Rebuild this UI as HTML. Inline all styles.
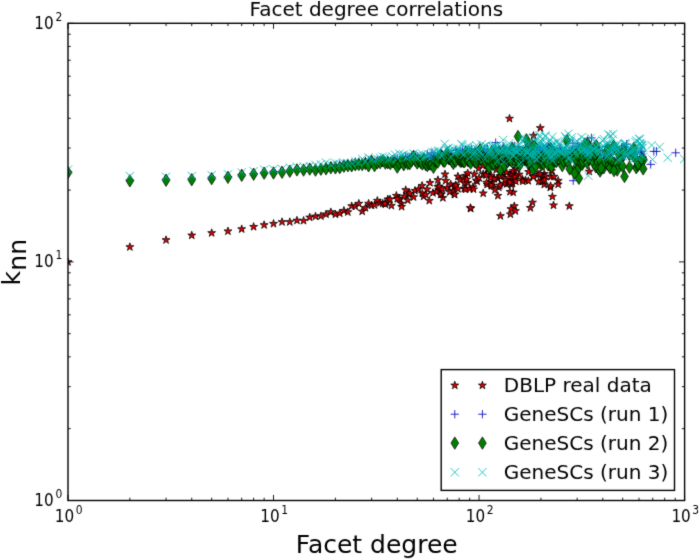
<!DOCTYPE html>
<html><head><meta charset="utf-8"><style>html,body{margin:0;padding:0;background:#fff;width:700px;height:560px;overflow:hidden}svg{display:block}</style></head><body>
<svg width="700" height="560" viewBox="0 0 700 560">
<filter id="bl" x="0" y="0" width="700" height="560" filterUnits="userSpaceOnUse" color-interpolation-filters="sRGB"><feConvolveMatrix order="3" kernelMatrix="0.0144 0.0912 0.0144 0.0912 0.5776 0.0912 0.0144 0.0912 0.0144" edgeMode="duplicate"/></filter>
<rect width="700" height="560" fill="#fff"/>
<g filter="url(#bl)">
<rect width="700" height="560" fill="#fff"/>
<clipPath id="ax"><rect x="68" y="23.3" width="616.6" height="477.2"/></clipPath>
<g clip-path="url(#ax)">
<g fill="#e00000" stroke="#000" stroke-width="0.8" stroke-linejoin="miter">
<path d="M68 257.83 67.06 260.71 64.04 260.71 66.49 262.49 65.55 265.37 68 263.59 70.45 265.37 69.51 262.49 71.96 260.71 68.94 260.71Z"/>
<path d="M129.87 242.83 128.94 245.71 125.91 245.71 128.36 247.49 127.42 250.37 129.87 248.59 132.32 250.37 131.39 247.49 133.83 245.71 130.81 245.71Z"/>
<path d="M166.06 235.83 165.13 238.71 162.1 238.71 164.55 240.49 163.62 243.37 166.06 241.59 168.51 243.37 167.58 240.49 170.03 238.71 167 238.71Z"/>
<path d="M191.74 231.23 190.81 234.11 187.78 234.11 190.23 235.89 189.29 238.77 191.74 236.99 194.19 238.77 193.26 235.89 195.71 234.11 192.68 234.11Z"/>
<path d="M211.66 228.83 210.73 231.71 207.7 231.71 210.15 233.49 209.21 236.37 211.66 234.59 214.11 236.37 213.18 233.49 215.62 231.71 212.6 231.71Z"/>
<path d="M227.94 227.08 227 229.96 223.97 229.96 226.42 231.74 225.49 234.62 227.94 232.84 230.39 234.62 229.45 231.74 231.9 229.96 228.87 229.96Z"/>
<path d="M241.7 224.93 240.76 227.81 237.73 227.81 240.18 229.59 239.25 232.47 241.7 230.69 244.14 232.47 243.21 229.59 245.66 227.81 242.63 227.81Z"/>
<path d="M253.62 222.63 252.68 225.51 249.65 225.51 252.1 227.29 251.17 230.17 253.62 228.39 256.06 230.17 255.13 227.29 257.58 225.51 254.55 225.51Z"/>
<path d="M264.13 220.83 263.19 223.71 260.17 223.71 262.62 225.49 261.68 228.37 264.13 226.59 266.58 228.37 265.64 225.49 268.09 223.71 265.06 223.71Z"/>
<path d="M273.53 219.58 272.6 222.46 269.57 222.46 272.02 224.24 271.08 227.12 273.53 225.34 275.98 227.12 275.05 224.24 277.5 222.46 274.47 222.46Z"/>
<path d="M282.04 217.83 281.11 220.71 278.08 220.71 280.53 222.49 279.59 225.37 282.04 223.59 284.49 225.37 283.55 222.49 286 220.71 282.98 220.71Z"/>
<path d="M289.81 217.83 288.87 220.71 285.84 220.71 288.29 222.49 287.36 225.37 289.81 223.59 292.26 225.37 291.32 222.49 293.77 220.71 290.74 220.71Z"/>
<path d="M296.95 216.33 296.02 219.21 292.99 219.21 295.44 220.99 294.5 223.87 296.95 222.09 299.4 223.87 298.47 220.99 300.92 219.21 297.89 219.21Z"/>
<path d="M303.57 216.53 302.63 219.41 299.6 219.41 302.05 221.19 301.12 224.07 303.57 222.29 306.02 224.07 305.08 221.19 307.53 219.41 304.5 219.41Z"/>
<path d="M309.73 213.23 308.79 216.11 305.76 216.11 308.21 217.89 307.28 220.77 309.73 218.99 312.18 220.77 311.24 217.89 313.69 216.11 310.66 216.11Z"/>
<path d="M315.49 212.23 314.55 215.11 311.52 215.11 313.97 216.89 313.04 219.77 315.49 217.99 317.94 219.77 317 216.89 319.45 215.11 316.42 215.11Z"/>
<path d="M320.9 211.93 319.96 214.81 316.94 214.81 319.38 216.59 318.45 219.47 320.9 217.69 323.35 219.47 322.41 216.59 324.86 214.81 321.83 214.81Z"/>
<path d="M326 210.13 325.06 213.01 322.04 213.01 324.49 214.79 323.55 217.67 326 215.89 328.45 217.67 327.51 214.79 329.96 213.01 326.94 213.01Z"/>
<path d="M330.83 207.93 329.89 210.81 326.86 210.81 329.31 212.59 328.38 215.47 330.83 213.69 333.28 215.47 332.34 212.59 334.79 210.81 331.76 210.81Z"/>
<path d="M335.41 210.13 334.47 213.01 331.44 213.01 333.89 214.79 332.96 217.67 335.41 215.89 337.85 217.67 336.92 214.79 339.37 213.01 336.34 213.01Z"/>
<path d="M339.76 209.13 338.82 212.01 335.8 212.01 338.25 213.79 337.31 216.67 339.76 214.89 342.21 216.67 341.27 213.79 343.72 212.01 340.7 212.01Z"/>
<path d="M343.91 206.53 342.98 209.41 339.95 209.41 342.4 211.19 341.46 214.07 343.91 212.29 346.36 214.07 345.43 211.19 347.88 209.41 344.85 209.41Z"/>
<path d="M347.88 207.93 346.94 210.81 343.92 210.81 346.37 212.59 345.43 215.47 347.88 213.69 350.33 215.47 349.39 212.59 351.84 210.81 348.82 210.81Z"/>
<path d="M351.68 201.93 350.74 204.81 347.72 204.81 350.17 206.59 349.23 209.47 351.68 207.69 354.13 209.47 353.19 206.59 355.64 204.81 352.61 204.81Z"/>
<path d="M355.32 202.23 354.39 205.11 351.36 205.11 353.81 206.89 352.87 209.77 355.32 207.99 357.77 209.77 356.84 206.89 359.29 205.11 356.26 205.11Z"/>
<path d="M358.82 199.43 357.89 202.31 354.86 202.31 357.31 204.09 356.38 206.97 358.82 205.19 361.27 206.97 360.34 204.09 362.79 202.31 359.76 202.31Z"/>
<path d="M362.19 207.23 361.26 210.11 358.23 210.11 360.68 211.89 359.74 214.77 362.19 212.99 364.64 214.77 363.71 211.89 366.16 210.11 363.13 210.11Z"/>
<path d="M365.44 203.73 364.5 206.61 361.48 206.61 363.93 208.39 362.99 211.27 365.44 209.49 367.89 211.27 366.95 208.39 369.4 206.61 366.37 206.61Z"/>
<path d="M368.57 199.43 367.64 202.31 364.61 202.31 367.06 204.09 366.12 206.97 368.57 205.19 371.02 206.97 370.09 204.09 372.53 202.31 369.51 202.31Z"/>
<path d="M371.6 201.23 370.66 204.11 367.63 204.11 370.08 205.89 369.15 208.77 371.6 206.99 374.05 208.77 373.11 205.89 375.56 204.11 372.53 204.11Z"/>
<path d="M374.52 200.83 373.59 203.71 370.56 203.71 373.01 205.49 372.08 208.37 374.52 206.59 376.97 208.37 376.04 205.49 378.49 203.71 375.46 203.71Z"/>
<path d="M377.36 196.53 376.42 199.41 373.4 199.41 375.84 201.19 374.91 204.07 377.36 202.29 379.81 204.07 378.87 201.19 381.32 199.41 378.29 199.41Z"/>
<path d="M380.11 198.73 379.17 201.61 376.14 201.61 378.59 203.39 377.66 206.27 380.11 204.49 382.55 206.27 381.62 203.39 384.07 201.61 381.04 201.61Z"/>
<path d="M382.77 199.33 381.83 202.21 378.81 202.21 381.26 203.99 380.32 206.87 382.77 205.09 385.22 206.87 384.28 203.99 386.73 202.21 383.71 202.21Z"/>
<path d="M385.36 200.13 384.42 203.01 381.39 203.01 383.84 204.79 382.91 207.67 385.36 205.89 387.81 207.67 386.87 204.79 389.32 203.01 386.29 203.01Z"/>
<path d="M387.87 195.13 386.94 198.01 383.91 198.01 386.36 199.79 385.42 202.67 387.87 200.89 390.32 202.67 389.39 199.79 391.83 198.01 388.81 198.01Z"/>
<path d="M385 199.43 384.06 202.31 381.04 202.31 383.49 204.09 382.55 206.97 385 205.19 387.45 206.97 386.51 204.09 388.96 202.31 385.94 202.31Z"/>
<path d="M391.4 201.53 390.46 204.41 387.44 204.41 389.89 206.19 388.95 209.07 391.4 207.29 393.85 209.07 392.91 206.19 395.36 204.41 392.34 204.41Z"/>
<path d="M390 195.13 389.06 198.01 386.04 198.01 388.49 199.79 387.55 202.67 390 200.89 392.45 202.67 391.51 199.79 393.96 198.01 390.94 198.01Z"/>
<path d="M396.4 191.53 395.46 194.41 392.44 194.41 394.89 196.19 393.95 199.07 396.4 197.29 398.85 199.07 397.91 196.19 400.36 194.41 397.34 194.41Z"/>
<path d="M401.4 199.43 400.46 202.31 397.44 202.31 399.89 204.09 398.95 206.97 401.4 205.19 403.85 206.97 402.91 204.09 405.36 202.31 402.34 202.31Z"/>
<path d="M399.3 194.43 398.36 197.31 395.34 197.31 397.79 199.09 396.85 201.97 399.3 200.19 401.75 201.97 400.81 199.09 403.26 197.31 400.24 197.31Z"/>
<path d="M405.7 185.83 404.76 188.71 401.74 188.71 404.19 190.49 403.25 193.37 405.7 191.59 408.15 193.37 407.21 190.49 409.66 188.71 406.64 188.71Z"/>
<path d="M404.3 192.23 403.36 195.11 400.34 195.11 402.79 196.89 401.85 199.77 404.3 197.99 406.75 199.77 405.81 196.89 408.26 195.11 405.24 195.11Z"/>
<path d="M408.6 190.13 407.66 193.01 404.64 193.01 407.09 194.79 406.15 197.67 408.6 195.89 411.05 197.67 410.11 194.79 412.56 193.01 409.54 193.01Z"/>
<path d="M413.6 192.93 412.66 195.81 409.64 195.81 412.09 197.59 411.15 200.47 413.6 198.69 416.05 200.47 415.11 197.59 417.56 195.81 414.54 195.81Z"/>
<path d="M415 186.53 414.06 189.41 411.04 189.41 413.49 191.19 412.55 194.07 415 192.29 417.45 194.07 416.51 191.19 418.96 189.41 415.94 189.41Z"/>
<path d="M418.6 185.13 417.66 188.01 414.64 188.01 417.09 189.79 416.15 192.67 418.6 190.89 421.05 192.67 420.11 189.79 422.56 188.01 419.54 188.01Z"/>
<path d="M422.1 181.53 421.16 184.41 418.14 184.41 420.59 186.19 419.65 189.07 422.1 187.29 424.55 189.07 423.61 186.19 426.06 184.41 423.04 184.41Z"/>
<path d="M423.6 192.23 422.66 195.11 419.64 195.11 422.09 196.89 421.15 199.77 423.6 197.99 426.05 199.77 425.11 196.89 427.56 195.11 424.54 195.11Z"/>
<path d="M427.1 185.13 426.16 188.01 423.14 188.01 425.59 189.79 424.65 192.67 427.1 190.89 429.55 192.67 428.61 189.79 431.06 188.01 428.04 188.01Z"/>
<path d="M429.3 196.53 428.36 199.41 425.34 199.41 427.79 201.19 426.85 204.07 429.3 202.29 431.75 204.07 430.81 201.19 433.26 199.41 430.24 199.41Z"/>
<path d="M430 178.73 429.06 181.61 426.04 181.61 428.49 183.39 427.55 186.27 430 184.49 432.45 186.27 431.51 183.39 433.96 181.61 430.94 181.61Z"/>
<path d="M432.9 188.73 431.96 191.61 428.94 191.61 431.39 193.39 430.45 196.27 432.9 194.49 435.35 196.27 434.41 193.39 436.86 191.61 433.84 191.61Z"/>
<path d="M437.9 175.83 436.96 178.71 433.94 178.71 436.39 180.49 435.45 183.37 437.9 181.59 440.35 183.37 439.41 180.49 441.86 178.71 438.84 178.71Z"/>
<path d="M438.6 185.83 437.66 188.71 434.64 188.71 437.09 190.49 436.15 193.37 438.6 191.59 441.05 193.37 440.11 190.49 442.56 188.71 439.54 188.71Z"/>
<path d="M441.4 190.13 440.46 193.01 437.44 193.01 439.89 194.79 438.95 197.67 441.4 195.89 443.85 197.67 442.91 194.79 445.36 193.01 442.34 193.01Z"/>
<path d="M442.9 193.73 441.96 196.61 438.94 196.61 441.39 198.39 440.45 201.27 442.9 199.49 445.35 201.27 444.41 198.39 446.86 196.61 443.84 196.61Z"/>
<path d="M445 170.13 444.06 173.01 441.04 173.01 443.49 174.79 442.55 177.67 445 175.89 447.45 177.67 446.51 174.79 448.96 173.01 445.94 173.01Z"/>
<path d="M445.7 176.53 444.76 179.41 441.74 179.41 444.19 181.19 443.25 184.07 445.7 182.29 448.15 184.07 447.21 181.19 449.66 179.41 446.64 179.41Z"/>
<path d="M447.1 183.73 446.16 186.61 443.14 186.61 445.59 188.39 444.65 191.27 447.1 189.49 449.55 191.27 448.61 188.39 451.06 186.61 448.04 186.61Z"/>
<path d="M450.7 180.13 449.76 183.01 446.74 183.01 449.19 184.79 448.25 187.67 450.7 185.89 453.15 187.67 452.21 184.79 454.66 183.01 451.64 183.01Z"/>
<path d="M454.3 190.13 453.36 193.01 450.34 193.01 452.79 194.79 451.85 197.67 454.3 195.89 456.75 197.67 455.81 194.79 458.26 193.01 455.24 193.01Z"/>
<path d="M455.7 181.53 454.76 184.41 451.74 184.41 454.19 186.19 453.25 189.07 455.7 187.29 458.15 189.07 457.21 186.19 459.66 184.41 456.64 184.41Z"/>
<path d="M457.9 172.23 456.96 175.11 453.94 175.11 456.39 176.89 455.45 179.77 457.9 177.99 460.35 179.77 459.41 176.89 461.86 175.11 458.84 175.11Z"/>
<path d="M460 175.83 459.06 178.71 456.04 178.71 458.49 180.49 457.55 183.37 460 181.59 462.45 183.37 461.51 180.49 463.96 178.71 460.94 178.71Z"/>
<path d="M464.3 184.43 463.36 187.31 460.34 187.31 462.79 189.09 461.85 191.97 464.3 190.19 466.75 191.97 465.81 189.09 468.26 187.31 465.24 187.31Z"/>
<path d="M465.7 171.53 464.76 174.41 461.74 174.41 464.19 176.19 463.25 179.07 465.7 177.29 468.15 179.07 467.21 176.19 469.66 174.41 466.64 174.41Z"/>
<path d="M467.9 178.73 466.96 181.61 463.94 181.61 466.39 183.39 465.45 186.27 467.9 184.49 470.35 186.27 469.41 183.39 471.86 181.61 468.84 181.61Z"/>
<path d="M470.7 204.43 469.76 207.31 466.74 207.31 469.19 209.09 468.25 211.97 470.7 210.19 473.15 211.97 472.21 209.09 474.66 207.31 471.64 207.31Z"/>
<path d="M472.9 182.93 471.96 185.81 468.94 185.81 471.39 187.59 470.45 190.47 472.9 188.69 475.35 190.47 474.41 187.59 476.86 185.81 473.84 185.81Z"/>
<path d="M474.3 170.13 473.36 173.01 470.34 173.01 472.79 174.79 471.85 177.67 474.3 175.89 476.75 177.67 475.81 174.79 478.26 173.01 475.24 173.01Z"/>
<path d="M477.1 177.23 476.16 180.11 473.14 180.11 475.59 181.89 474.65 184.77 477.1 182.99 479.55 184.77 478.61 181.89 481.06 180.11 478.04 180.11Z"/>
<path d="M478.6 164.43 477.66 167.31 474.64 167.31 477.09 169.09 476.15 171.97 478.6 170.19 481.05 171.97 480.11 169.09 482.56 167.31 479.54 167.31Z"/>
<path d="M397.28 194.7 396.34 197.58 393.31 197.58 395.76 199.36 394.83 202.24 397.28 200.46 399.73 202.24 398.79 199.36 401.24 197.58 398.21 197.58Z"/>
<path d="M401.63 202.56 400.7 205.44 397.67 205.44 400.12 207.22 399.18 210.1 401.63 208.32 404.08 210.1 403.15 207.22 405.59 205.44 402.57 205.44Z"/>
<path d="M407.79 196.07 406.85 198.95 403.83 198.95 406.28 200.73 405.34 203.61 407.79 201.83 410.24 203.61 409.3 200.73 411.75 198.95 408.73 198.95Z"/>
<path d="M409.75 189.13 408.82 192.01 405.79 192.01 408.24 193.79 407.3 196.67 409.75 194.89 412.2 196.67 411.27 193.79 413.71 192.01 410.69 192.01Z"/>
<path d="M422.4 189.38 421.46 192.26 418.43 192.26 420.88 194.04 419.95 196.92 422.4 195.14 424.85 196.92 423.91 194.04 426.36 192.26 423.33 192.26Z"/>
<path d="M425.7 190.49 424.77 193.37 421.74 193.37 424.19 195.15 423.25 198.03 425.7 196.25 428.15 198.03 427.22 195.15 429.67 193.37 426.64 193.37Z"/>
<path d="M436.4 187.71 435.46 190.59 432.43 190.59 434.88 192.37 433.95 195.25 436.4 193.47 438.85 195.25 437.91 192.37 440.36 190.59 437.33 190.59Z"/>
<path d="M437.82 182.57 436.89 185.45 433.86 185.45 436.31 187.23 435.38 190.1 437.82 188.33 440.27 190.1 439.34 187.23 441.79 185.45 438.76 185.45Z"/>
<path d="M439.23 182.21 438.29 185.09 435.27 185.09 437.72 186.87 436.78 189.75 439.23 187.97 441.68 189.75 440.74 186.87 443.19 185.09 440.17 185.09Z"/>
<path d="M440.61 190.32 439.68 193.2 436.65 193.2 439.1 194.98 438.17 197.86 440.61 196.08 443.06 197.86 442.13 194.98 444.58 193.2 441.55 193.2Z"/>
<path d="M441.98 184.99 441.04 187.87 438.01 187.87 440.46 189.65 439.53 192.53 441.98 190.75 444.43 192.53 443.49 189.65 445.94 187.87 442.91 187.87Z"/>
<path d="M449.74 187.86 448.81 190.74 445.78 190.74 448.23 192.52 447.29 195.4 449.74 193.62 452.19 195.4 451.26 192.52 453.71 190.74 450.68 190.74Z"/>
<path d="M453.39 186.45 452.45 189.32 449.42 189.32 451.87 191.1 450.94 193.98 453.39 192.2 455.84 193.98 454.9 191.1 457.35 189.32 454.32 189.32Z"/>
<path d="M454.57 182.7 453.63 185.58 450.61 185.58 453.06 187.36 452.12 190.24 454.57 188.46 457.02 190.24 456.08 187.36 458.53 185.58 455.51 185.58Z"/>
<path d="M455.74 181.09 454.8 183.97 451.77 183.97 454.22 185.75 453.29 188.63 455.74 186.85 458.19 188.63 457.25 185.75 459.7 183.97 456.67 183.97Z"/>
<path d="M458.03 184.79 457.09 187.66 454.06 187.66 456.51 189.44 455.58 192.32 458.03 190.54 460.47 192.32 459.54 189.44 461.99 187.66 458.96 187.66Z"/>
<path d="M463.5 174.11 462.57 176.99 459.54 176.99 461.99 178.77 461.05 181.65 463.5 179.87 465.95 181.65 465.02 178.77 467.47 176.99 464.44 176.99Z"/>
<path d="M464.56 178.8 463.62 181.68 460.6 181.68 463.05 183.46 462.11 186.34 464.56 184.56 467.01 186.34 466.07 183.46 468.52 181.68 465.5 181.68Z"/>
<path d="M465.6 185.24 464.67 188.12 461.64 188.12 464.09 189.9 463.15 192.78 465.6 191 468.05 192.78 467.12 189.9 469.57 188.12 466.54 188.12Z"/>
<path d="M466.64 175.28 465.7 178.15 462.67 178.15 465.12 179.93 464.19 182.81 466.64 181.03 469.08 182.81 468.15 179.93 470.6 178.15 467.57 178.15Z"/>
<path d="M467.66 169.03 466.72 171.9 463.69 171.9 466.14 173.68 465.21 176.56 467.66 174.78 470.11 176.56 469.17 173.68 471.62 171.9 468.59 171.9Z"/>
<path d="M469.66 184.76 468.73 187.64 465.7 187.64 468.15 189.42 467.21 192.3 469.66 190.52 472.11 192.3 471.18 189.42 473.62 187.64 470.6 187.64Z"/>
<path d="M473.54 185.1 472.61 187.98 469.58 187.98 472.03 189.76 471.09 192.64 473.54 190.86 475.99 192.64 475.06 189.76 477.51 187.98 474.48 187.98Z"/>
<path d="M476.35 176.16 475.41 179.04 472.39 179.04 474.83 180.82 473.9 183.7 476.35 181.92 478.8 183.7 477.86 180.82 480.31 179.04 477.28 179.04Z"/>
<path d="M479.07 173.85 478.13 176.73 475.1 176.73 477.55 178.51 476.62 181.39 479.07 179.61 481.52 181.39 480.58 178.51 483.03 176.73 480 176.73Z"/>
<path d="M487.1 180.4 486.17 183.28 483.14 183.28 485.59 185.06 484.65 187.94 487.1 186.16 489.55 187.94 488.61 185.06 491.06 183.28 488.04 183.28Z"/>
<path d="M511.3 180.51 510.36 183.39 507.33 183.39 509.78 185.17 508.85 188.05 511.3 186.27 513.75 188.05 512.81 185.17 515.26 183.39 512.23 183.39Z"/>
<path d="M498.81 183.2 497.87 186.08 494.85 186.08 497.3 187.86 496.36 190.74 498.81 188.96 501.26 190.74 500.32 187.86 502.77 186.08 499.75 186.08Z"/>
<path d="M506.55 179.92 505.61 182.8 502.59 182.8 505.04 184.58 504.1 187.45 506.55 185.68 509 187.45 508.06 184.58 510.51 182.8 507.49 182.8Z"/>
<path d="M492.14 178.26 491.21 181.14 488.18 181.14 490.63 182.92 489.69 185.8 492.14 184.02 494.59 185.8 493.66 182.92 496.11 181.14 493.08 181.14Z"/>
<path d="M482.67 161.59 481.73 164.47 478.71 164.47 481.16 166.24 480.22 169.12 482.67 167.34 485.12 169.12 484.18 166.24 486.63 164.47 483.61 164.47Z"/>
<path d="M502.99 169.53 502.06 172.41 499.03 172.41 501.48 174.19 500.55 177.07 502.99 175.29 505.44 177.07 504.51 174.19 506.96 172.41 503.93 172.41Z"/>
<path d="M497.9 191.55 496.97 194.43 493.94 194.43 496.39 196.21 495.45 199.08 497.9 197.3 500.35 199.08 499.42 196.21 501.86 194.43 498.84 194.43Z"/>
<path d="M491.08 171.47 490.14 174.34 487.12 174.34 489.57 176.12 488.63 179 491.08 177.22 493.53 179 492.59 176.12 495.04 174.34 492.02 174.34Z"/>
<path d="M503.98 179.28 503.04 182.16 500.02 182.16 502.47 183.94 501.53 186.82 503.98 185.04 506.43 186.82 505.49 183.94 507.94 182.16 504.92 182.16Z"/>
<path d="M497.73 174.39 496.79 177.27 493.76 177.27 496.21 179.05 495.28 181.93 497.73 180.15 500.17 181.93 499.24 179.05 501.69 177.27 498.66 177.27Z"/>
<path d="M512.55 179.47 511.61 182.35 508.59 182.35 511.04 184.13 510.1 187.01 512.55 185.23 515 187.01 514.06 184.13 516.51 182.35 513.48 182.35Z"/>
<path d="M513.47 175.28 512.53 178.16 509.51 178.16 511.96 179.94 511.02 182.82 513.47 181.04 515.92 182.82 514.98 179.94 517.43 178.16 514.41 178.16Z"/>
<path d="M506.61 168.45 505.68 171.33 502.65 171.33 505.1 173.11 504.16 175.99 506.61 174.21 509.06 175.99 508.13 173.11 510.58 171.33 507.55 171.33Z"/>
<path d="M483.2 169.83 482.26 172.71 479.23 172.71 481.68 174.49 480.75 177.37 483.2 175.59 485.65 177.37 484.71 174.49 487.16 172.71 484.13 172.71Z"/>
<path d="M508.98 177.18 508.04 180.06 505.02 180.06 507.47 181.84 506.53 184.72 508.98 182.94 511.43 184.72 510.49 181.84 512.94 180.06 509.92 180.06Z"/>
<path d="M501.88 171.7 500.95 174.58 497.92 174.58 500.37 176.35 499.43 179.23 501.88 177.45 504.33 179.23 503.4 176.35 505.84 174.58 502.82 174.58Z"/>
<path d="M497.49 161.85 496.56 164.73 493.53 164.73 495.98 166.51 495.05 169.39 497.49 167.61 499.94 169.39 499.01 166.51 501.46 164.73 498.43 164.73Z"/>
<path d="M486.6 178.37 485.67 181.25 482.64 181.25 485.09 183.03 484.15 185.91 486.6 184.13 489.05 185.91 488.12 183.03 490.57 181.25 487.54 181.25Z"/>
<path d="M491.8 181.76 490.86 184.64 487.84 184.64 490.29 186.42 489.35 189.3 491.8 187.52 494.25 189.3 493.31 186.42 495.76 184.64 492.73 184.64Z"/>
<path d="M491.15 181.13 490.21 184.01 487.19 184.01 489.64 185.79 488.7 188.67 491.15 186.89 493.6 188.67 492.66 185.79 495.11 184.01 492.09 184.01Z"/>
<path d="M499.79 181.29 498.85 184.17 495.82 184.17 498.27 185.94 497.34 188.82 499.79 187.04 502.24 188.82 501.3 185.94 503.75 184.17 500.72 184.17Z"/>
<path d="M488.32 165.08 487.38 167.95 484.36 167.95 486.8 169.73 485.87 172.61 488.32 170.83 490.77 172.61 489.83 169.73 492.28 167.95 489.25 167.95Z"/>
<path d="M494.89 185.93 493.95 188.8 490.93 188.8 493.38 190.58 492.44 193.46 494.89 191.68 497.34 193.46 496.4 190.58 498.85 188.8 495.83 188.8Z"/>
<path d="M497.59 173.92 496.65 176.8 493.63 176.8 496.08 178.57 495.14 181.45 497.59 179.67 500.04 181.45 499.1 178.57 501.55 176.8 498.53 176.8Z"/>
<path d="M512.07 169.01 511.13 171.89 508.11 171.89 510.55 173.67 509.62 176.54 512.07 174.77 514.52 176.54 513.58 173.67 516.03 171.89 513 171.89Z"/>
<path d="M500.06 172.03 499.13 174.91 496.1 174.91 498.55 176.69 497.62 179.57 500.06 177.79 502.51 179.57 501.58 176.69 504.03 174.91 501 174.91Z"/>
<path d="M511.37 170.28 510.44 173.16 507.41 173.16 509.86 174.94 508.92 177.82 511.37 176.04 513.82 177.82 512.88 174.94 515.33 173.16 512.31 173.16Z"/>
<path d="M513.06 166.89 512.13 169.77 509.1 169.77 511.55 171.55 510.62 174.43 513.06 172.65 515.51 174.43 514.58 171.55 517.03 169.77 514 169.77Z"/>
<path d="M494.34 174.75 493.4 177.63 490.38 177.63 492.83 179.41 491.89 182.29 494.34 180.51 496.79 182.29 495.85 179.41 498.3 177.63 495.28 177.63Z"/>
<path d="M514.14 175.93 513.2 178.81 510.17 178.81 512.62 180.59 511.69 183.46 514.14 181.68 516.58 183.46 515.65 180.59 518.1 178.81 515.07 178.81Z"/>
<path d="M508.63 173.55 507.69 176.43 504.67 176.43 507.12 178.21 506.18 181.08 508.63 179.3 511.08 181.08 510.14 178.21 512.59 176.43 509.56 176.43Z"/>
<path d="M505.25 175.89 504.31 178.77 501.29 178.77 503.74 180.55 502.8 183.43 505.25 181.65 507.7 183.43 506.76 180.55 509.21 178.77 506.18 178.77Z"/>
<path d="M490.64 173.73 489.71 176.61 486.68 176.61 489.13 178.39 488.19 181.27 490.64 179.49 493.09 181.27 492.16 178.39 494.6 176.61 491.58 176.61Z"/>
<path d="M485.71 170.19 484.78 173.06 481.75 173.06 484.2 174.84 483.26 177.72 485.71 175.94 488.16 177.72 487.22 174.84 489.67 173.06 486.65 173.06Z"/>
<path d="M486.09 171.13 485.16 174.01 482.13 174.01 484.58 175.79 483.64 178.67 486.09 176.89 488.54 178.67 487.6 175.79 490.05 174.01 487.03 174.01Z"/>
<path d="M509.93 178.19 508.99 181.07 505.96 181.07 508.41 182.85 507.48 185.73 509.93 183.95 512.38 185.73 511.44 182.85 513.89 181.07 510.86 181.07Z"/>
<path d="M496.21 165.66 495.27 168.53 492.25 168.53 494.7 170.31 493.76 173.19 496.21 171.41 498.66 173.19 497.72 170.31 500.17 168.53 497.14 168.53Z"/>
<path d="M544.33 169.67 543.39 172.55 540.36 172.55 542.81 174.33 541.88 177.21 544.33 175.43 546.78 177.21 545.84 174.33 548.29 172.55 545.26 172.55Z"/>
<path d="M558.22 176.51 557.29 179.39 554.26 179.39 556.71 181.17 555.77 184.05 558.22 182.27 560.67 184.05 559.74 181.17 562.18 179.39 559.16 179.39Z"/>
<path d="M542.89 173.19 541.96 176.07 538.93 176.07 541.38 177.85 540.44 180.73 542.89 178.95 545.34 180.73 544.41 177.85 546.86 176.07 543.83 176.07Z"/>
<path d="M522.46 175.11 521.52 177.99 518.5 177.99 520.95 179.77 520.01 182.64 522.46 180.87 524.91 182.64 523.97 179.77 526.42 177.99 523.39 177.99Z"/>
<path d="M532.93 172.12 531.99 175 528.97 175 531.42 176.78 530.48 179.66 532.93 177.88 535.38 179.66 534.44 176.78 536.89 175 533.87 175Z"/>
<path d="M551.5 166.75 550.56 169.63 547.54 169.63 549.99 171.41 549.05 174.29 551.5 172.51 553.95 174.29 553.01 171.41 555.46 169.63 552.44 169.63Z"/>
<path d="M519.21 170.3 518.27 173.18 515.24 173.18 517.69 174.96 516.76 177.84 519.21 176.06 521.66 177.84 520.72 174.96 523.17 173.18 520.14 173.18Z"/>
<path d="M550.89 172.66 549.96 175.54 546.93 175.54 549.38 177.32 548.44 180.2 550.89 178.42 553.34 180.2 552.41 177.32 554.86 175.54 551.83 175.54Z"/>
<path d="M538.07 170.29 537.14 173.17 534.11 173.17 536.56 174.95 535.62 177.83 538.07 176.05 540.52 177.83 539.59 174.95 542.03 173.17 539.01 173.17Z"/>
<path d="M516.15 171.32 515.21 174.2 512.18 174.2 514.63 175.98 513.7 178.86 516.15 177.08 518.6 178.86 517.66 175.98 520.11 174.2 517.08 174.2Z"/>
<path d="M514.93 172.94 513.99 175.82 510.97 175.82 513.42 177.6 512.48 180.48 514.93 178.7 517.38 180.48 516.44 177.6 518.89 175.82 515.87 175.82Z"/>
<path d="M525.43 176.24 524.5 179.11 521.47 179.11 523.92 180.89 522.99 183.77 525.43 181.99 527.88 183.77 526.95 180.89 529.4 179.11 526.37 179.11Z"/>
<path d="M540.08 170.02 539.15 172.89 536.12 172.89 538.57 174.67 537.64 177.55 540.08 175.77 542.53 177.55 541.6 174.67 544.05 172.89 541.02 172.89Z"/>
<path d="M541.16 177.58 540.22 180.46 537.2 180.46 539.64 182.24 538.71 185.12 541.16 183.34 543.61 185.12 542.67 182.24 545.12 180.46 542.09 180.46Z"/>
<path d="M545.18 172.13 544.25 175.01 541.22 175.01 543.67 176.79 542.73 179.67 545.18 177.89 547.63 179.67 546.7 176.79 549.14 175.01 546.12 175.01Z"/>
<path d="M528.29 176.74 527.35 179.62 524.32 179.62 526.77 181.4 525.84 184.28 528.29 182.5 530.74 184.28 529.8 181.4 532.25 179.62 529.22 179.62Z"/>
<path d="M538.77 177.44 537.83 180.32 534.8 180.32 537.25 182.1 536.32 184.98 538.77 183.2 541.22 184.98 540.28 182.1 542.73 180.32 539.7 180.32Z"/>
<path d="M544.27 180.41 543.33 183.29 540.31 183.29 542.76 185.07 541.82 187.95 544.27 186.17 546.72 187.95 545.78 185.07 548.23 183.29 545.2 183.29Z"/>
<path d="M522.8 177.14 521.86 180.02 518.83 180.02 521.28 181.8 520.35 184.68 522.8 182.9 525.25 184.68 524.31 181.8 526.76 180.02 523.73 180.02Z"/>
<path d="M515.83 177.2 514.89 180.08 511.86 180.08 514.31 181.86 513.38 184.74 515.83 182.96 518.27 184.74 517.34 181.86 519.79 180.08 516.76 180.08Z"/>
<path d="M558.16 180.26 557.23 183.13 554.2 183.13 556.65 184.91 555.71 187.79 558.16 186.01 560.61 187.79 559.68 184.91 562.13 183.13 559.1 183.13Z"/>
<path d="M516.33 164.39 515.4 167.27 512.37 167.27 514.82 169.05 513.88 171.93 516.33 170.15 518.78 171.93 517.85 169.05 520.3 167.27 517.27 167.27Z"/>
<path d="M528.63 167.76 527.69 170.64 524.67 170.64 527.11 172.42 526.18 175.3 528.63 173.52 531.08 175.3 530.14 172.42 532.59 170.64 529.56 170.64Z"/>
<path d="M542.82 177.03 541.89 179.91 538.86 179.91 541.31 181.69 540.38 184.57 542.82 182.79 545.27 184.57 544.34 181.69 546.79 179.91 543.76 179.91Z"/>
<path d="M509.5 114.43 508.56 117.31 505.54 117.31 507.99 119.09 507.05 121.97 509.5 120.19 511.95 121.97 511.01 119.09 513.46 117.31 510.44 117.31Z"/>
<path d="M540.3 123.83 539.36 126.71 536.34 126.71 538.79 128.49 537.85 131.37 540.3 129.59 542.75 131.37 541.81 128.49 544.26 126.71 541.24 126.71Z"/>
<path d="M533.5 131.53 532.56 134.41 529.54 134.41 531.99 136.19 531.05 139.07 533.5 137.29 535.95 139.07 535.01 136.19 537.46 134.41 534.44 134.41Z"/>
<path d="M454.7 190.43 453.76 193.31 450.74 193.31 453.19 195.09 452.25 197.97 454.7 196.19 457.15 197.97 456.21 195.09 458.66 193.31 455.64 193.31Z"/>
<path d="M470.4 203.73 469.46 206.61 466.44 206.61 468.89 208.39 467.95 211.27 470.4 209.49 472.85 211.27 471.91 208.39 474.36 206.61 471.34 206.61Z"/>
<path d="M500.4 211.83 499.46 214.71 496.44 214.71 498.89 216.49 497.95 219.37 500.4 217.59 502.85 219.37 501.91 216.49 504.36 214.71 501.34 214.71Z"/>
<path d="M510.4 210.13 509.46 213.01 506.44 213.01 508.89 214.79 507.95 217.67 510.4 215.89 512.85 217.67 511.91 214.79 514.36 213.01 511.34 213.01Z"/>
<path d="M514.3 201.93 513.36 204.81 510.34 204.81 512.79 206.59 511.85 209.47 514.3 207.69 516.75 209.47 515.81 206.59 518.26 204.81 515.24 204.81Z"/>
<path d="M515.4 206.83 514.46 209.71 511.44 209.71 513.89 211.49 512.95 214.37 515.4 212.59 517.85 214.37 516.91 211.49 519.36 209.71 516.34 209.71Z"/>
<path d="M511 204.83 510.06 207.71 507.04 207.71 509.49 209.49 508.55 212.37 511 210.59 513.45 212.37 512.51 209.49 514.96 207.71 511.94 207.71Z"/>
<path d="M530.4 203.73 529.46 206.61 526.44 206.61 528.89 208.39 527.95 211.27 530.4 209.49 532.85 211.27 531.91 208.39 534.36 206.61 531.34 206.61Z"/>
<path d="M532.5 198.33 531.56 201.21 528.54 201.21 530.99 202.99 530.05 205.87 532.5 204.09 534.95 205.87 534.01 202.99 536.46 201.21 533.44 201.21Z"/>
<path d="M552.4 192.53 551.46 195.41 548.44 195.41 550.89 197.19 549.95 200.07 552.4 198.29 554.85 200.07 553.91 197.19 556.36 195.41 553.34 195.41Z"/>
<path d="M553.5 201.13 552.56 204.01 549.54 204.01 551.99 205.79 551.05 208.67 553.5 206.89 555.95 208.67 555.01 205.79 557.46 204.01 554.44 204.01Z"/>
<path d="M569.3 201.93 568.36 204.81 565.34 204.81 567.79 206.59 566.85 209.47 569.3 207.69 571.75 209.47 570.81 206.59 573.26 204.81 570.24 204.81Z"/>
<path d="M550.3 183.33 549.36 186.21 546.34 186.21 548.79 187.99 547.85 190.87 550.3 189.09 552.75 190.87 551.81 187.99 554.26 186.21 551.24 186.21Z"/>
<path d="M483.2 189.13 482.26 192.01 479.24 192.01 481.69 193.79 480.75 196.67 483.2 194.89 485.65 196.67 484.71 193.79 487.16 192.01 484.14 192.01Z"/>
<path d="M513.2 188.23 512.26 191.11 509.24 191.11 511.69 192.89 510.75 195.77 513.2 193.99 515.65 195.77 514.71 192.89 517.16 191.11 514.14 191.11Z"/>
<path d="M510 187.63 509.06 190.51 506.04 190.51 508.49 192.29 507.55 195.17 510 193.39 512.45 195.17 511.51 192.29 513.96 190.51 510.94 190.51Z"/>
<path d="M550.6 181.83 549.66 184.71 546.64 184.71 549.09 186.49 548.15 189.37 550.6 187.59 553.05 189.37 552.11 186.49 554.56 184.71 551.54 184.71Z"/>
<path d="M544.6 175.83 543.66 178.71 540.64 178.71 543.09 180.49 542.15 183.37 544.6 181.59 547.05 183.37 546.11 180.49 548.56 178.71 545.54 178.71Z"/>
<path d="M533.4 172.43 532.46 175.31 529.44 175.31 531.89 177.09 530.95 179.97 533.4 178.19 535.85 179.97 534.91 177.09 537.36 175.31 534.34 175.31Z"/>
<path d="M554 172.43 553.06 175.31 550.04 175.31 552.49 177.09 551.55 179.97 554 178.19 556.45 179.97 555.51 177.09 557.96 175.31 554.94 175.31Z"/>
<path d="M589.2 167.33 588.26 170.21 585.24 170.21 587.69 171.99 586.75 174.87 589.2 173.09 591.65 174.87 590.71 171.99 593.16 170.21 590.14 170.21Z"/>
</g>
<path fill="none" stroke="#1010c0" stroke-width="0.9" d="M63.83 171.61h8.33M68 167.44v8.33M125.71 179.79h8.33M129.87 175.62v8.33M161.9 179.26h8.33M166.06 175.09v8.33M187.58 178.39h8.33M191.74 174.23v8.33M207.49 177.14h8.33M211.66 172.97v8.33M223.77 176.59h8.33M227.94 172.42v8.33M237.53 174.62h8.33M241.7 170.45v8.33M249.45 173.59h8.33M253.62 169.42v8.33M259.96 172.36h8.33M264.13 168.19v8.33M269.37 171.31h8.33M273.53 167.15v8.33M277.87 171.63h8.33M282.04 167.46v8.33M285.64 170.08h8.33M289.81 165.91v8.33M292.79 169.64h8.33M296.95 165.48v8.33M299.4 168.83h8.33M303.57 164.67v8.33M305.56 168.14h8.33M309.73 163.98v8.33M311.32 167.86h8.33M315.49 163.7v8.33M316.73 167.49h8.33M320.9 163.33v8.33M321.83 166.45h8.33M326 162.28v8.33M326.66 165.95h8.33M330.83 161.79v8.33M331.24 166h8.33M335.41 161.84v8.33M335.59 164.49h8.33M339.76 160.33v8.33M339.75 163.53h8.33M343.91 159.36v8.33M343.71 164.55h8.33M347.88 160.39v8.33M347.51 163.28h8.33M351.68 159.11v8.33M351.16 161.77h8.33M355.32 157.6v8.33M354.66 162.33h8.33M358.82 158.17v8.33M358.03 162.28h8.33M362.19 158.11v8.33M361.27 161.19h8.33M365.44 157.03v8.33M364.4 160.51h8.33M368.57 156.34v8.33M367.43 161.8h8.33M371.6 157.63v8.33M370.36 162.48h8.33M374.52 158.32v8.33M373.19 160.97h8.33M377.36 156.81v8.33M375.94 160.12h8.33M380.11 155.96v8.33M378.6 161.21h8.33M382.77 157.05v8.33M381.19 161.4h8.33M385.36 157.23v8.33M383.71 159.91h8.33M387.87 155.75v8.33M386.15 160.77h8.33M390.32 156.61v8.33M388.53 161.23h8.33M392.7 157.06v8.33M390.85 159.37h8.33M395.02 155.2v8.33M393.11 158.33h8.33M397.28 154.17v8.33M395.31 159.73h8.33M399.48 155.56v8.33M397.47 159.41h8.33M401.63 155.24v8.33M399.57 160.47h8.33M403.73 156.31v8.33M401.62 156.75h8.33M405.78 152.58v8.33M403.62 157.48h8.33M407.79 153.32v8.33M405.59 157.01h8.33M409.75 152.84v8.33M407.51 155.37h8.33M411.67 151.2v8.33M409.38 158.19h8.33M413.55 154.02v8.33M411.22 158.7h8.33M415.39 154.53v8.33M413.03 156.4h8.33M417.19 152.23v8.33M414.8 159.89h8.33M418.96 155.73v8.33M416.53 158.79h8.33M420.7 154.62v8.33M418.23 158.31h8.33M422.4 154.14v8.33M419.9 157.77h8.33M424.06 153.6v8.33M421.54 158.65h8.33M425.7 154.49v8.33M423.14 154.24h8.33M427.31 150.07v8.33M424.72 157.77h8.33M428.89 153.6v8.33M426.28 157.63h8.33M430.44 153.46v8.33M427.8 152.86h8.33M431.97 148.69v8.33M429.3 156.88h8.33M433.47 152.71v8.33M430.78 155.55h8.33M434.94 151.38v8.33M432.23 157.52h8.33M436.4 153.35v8.33M433.66 154.89h8.33M437.82 150.72v8.33M435.06 155.63h8.33M439.23 151.46v8.33M436.45 156.27h8.33M440.61 152.1v8.33M437.81 153.55h8.33M441.98 149.38v8.33M439.15 156.59h8.33M443.32 152.43v8.33M440.47 154.95h8.33M444.64 150.79v8.33M441.78 156.15h8.33M445.94 151.98v8.33M443.06 153.79h8.33M447.23 149.62v8.33M444.33 157.28h8.33M448.5 153.11v8.33M445.58 156.1h8.33M449.74 151.93v8.33M446.81 154.2h8.33M450.97 150.04v8.33M448.02 155.96h8.33M452.19 151.8v8.33M449.22 157.34h8.33M453.39 153.17v8.33M450.4 158.51h8.33M454.57 154.34v8.33M451.57 150.45h8.33M455.74 146.28v8.33M452.72 156.2h8.33M456.89 152.03v8.33M453.86 155.1h8.33M458.03 150.93v8.33M454.98 153.65h8.33M459.15 149.48v8.33M456.09 151.33h8.33M460.26 147.16v8.33M457.19 156.89h8.33M461.35 152.72v8.33M458.27 150.62h8.33M462.43 146.45v8.33M459.34 155.17h8.33M463.5 151v8.33M460.39 157.02h8.33M464.56 152.86v8.33M461.44 149.64h8.33M465.6 145.47v8.33M462.47 152.92h8.33M466.64 148.75v8.33M463.49 150.3h8.33M467.66 146.13v8.33M464.5 154.3h8.33M468.66 150.13v8.33M465.5 157.62h8.33M469.66 153.45v8.33M466.48 158.97h8.33M470.65 154.8v8.33M467.46 148.9h8.33M471.62 144.73v8.33M468.42 152.07h8.33M472.59 147.9v8.33M469.38 155.48h8.33M473.54 151.31v8.33M470.32 157.84h8.33M474.49 153.68v8.33M471.26 154.71h8.33M475.42 150.54v8.33M472.18 151.5h8.33M476.35 147.34v8.33M473.1 154.35h8.33M477.26 150.18v8.33M474 153.47h8.33M478.17 149.3v8.33M474.9 152.94h8.33M479.07 148.77v8.33M475.79 151.43h8.33M479.95 147.27v8.33M476.67 154.57h8.33M480.83 150.4v8.33M477.54 154.33h8.33M481.71 150.17v8.33M478.4 153.18h8.33M482.57 149.02v8.33M479.26 152.8h8.33M483.42 148.63v8.33M480.1 149.73h8.33M484.27 145.56v8.33M480.94 152h8.33M485.11 147.84v8.33M481.77 156.9h8.33M485.94 152.73v8.33M482.59 152.83h8.33M486.76 148.66v8.33M483.41 149.15h8.33M487.57 144.98v8.33M484.22 157.29h8.33M488.38 153.12v8.33M485.02 154.92h8.33M489.18 150.75v8.33M485.81 159.6h8.33M489.98 155.44v8.33M486.6 153.51h8.33M490.76 149.34v8.33M487.38 151.92h8.33M491.54 147.76v8.33M488.15 148.93h8.33M492.31 144.77v8.33M488.91 157.3h8.33M493.08 153.13v8.33M489.67 161.09h8.33M493.84 156.92v8.33M490.43 150.75h8.33M494.59 146.59v8.33M491.17 151.26h8.33M495.34 147.1v8.33M491.92 155.08h8.33M496.08 150.91v8.33M492.65 150.66h8.33M496.82 146.49v8.33M493.38 152.38h8.33M497.55 148.21v8.33M494.1 152.11h8.33M498.27 147.95v8.33M494.82 153.79h8.33M498.98 149.63v8.33M495.53 156.63h8.33M499.7 152.46v8.33M496.24 153.24h8.33M500.4 149.07v8.33M496.94 156.07h8.33M501.1 151.91v8.33M497.63 151.81h8.33M501.8 147.65v8.33M498.32 154.19h8.33M502.49 150.02v8.33M499 146.27h8.33M503.17 142.11v8.33M499.68 148.45h8.33M503.85 144.29v8.33M500.36 155.68h8.33M504.52 151.51v8.33M501.02 151.18h8.33M505.19 147.02v8.33M501.69 154.97h8.33M505.85 150.81v8.33M502.35 154.85h8.33M506.51 150.68v8.33M503 157.4h8.33M507.17 153.23v8.33M503.65 155.72h8.33M507.82 151.56v8.33M504.29 156.4h8.33M508.46 152.23v8.33M504.93 152.67h8.33M509.1 148.5v8.33M505.57 150.71h8.33M509.74 146.54v8.33M506.2 150.58h8.33M510.37 146.41v8.33M506.83 151.38h8.33M510.99 147.21v8.33M507.45 149.21h8.33M511.62 145.04v8.33M508.07 151.15h8.33M512.23 146.98v8.33M508.68 152.67h8.33M512.85 148.5v8.33M509.29 153.82h8.33M513.46 149.65v8.33M509.89 151.81h8.33M514.06 147.64v8.33M510.5 146.4h8.33M514.66 142.23v8.33M511.09 152.69h8.33M515.26 148.53v8.33M511.69 153.7h8.33M515.85 149.54v8.33M512.27 156.65h8.33M516.44 152.48v8.33M512.86 154.91h8.33M517.03 150.74v8.33M513.44 150.68h8.33M517.61 146.51v8.33M514.02 150.38h8.33M518.19 146.22v8.33M514.59 159.88h8.33M518.76 155.71v8.33M515.16 155.52h8.33M519.33 151.35v8.33M516.29 159.28h8.33M520.46 155.12v8.33M516.85 160.34h8.33M521.02 156.18v8.33M517.41 149.96h8.33M521.58 145.79v8.33M517.96 154.2h8.33M522.13 150.03v8.33M518.51 154.45h8.33M522.68 150.28v8.33M519.06 154.81h8.33M523.22 150.64v8.33M519.6 154.74h8.33M523.77 150.57v8.33M520.68 153.52h8.33M524.84 149.35v8.33M521.21 153.41h8.33M525.38 149.24v8.33M521.74 147.36h8.33M525.9 143.19v8.33M522.26 152.17h8.33M526.43 148v8.33M523.31 150.04h8.33M527.48 145.87v8.33M524.34 153.19h8.33M528.51 149.03v8.33M525.87 150.99h8.33M530.03 146.83v8.33M526.37 154.98h8.33M530.54 150.81v8.33M526.87 155.72h8.33M531.04 151.55v8.33M527.37 153.83h8.33M531.53 149.66v8.33M528.35 153.85h8.33M532.52 149.68v8.33M529.33 153h8.33M533.5 148.84v8.33M529.81 150.97h8.33M533.98 146.81v8.33M530.29 152.02h8.33M534.46 147.86v8.33M530.77 150.77h8.33M534.94 146.6v8.33M531.25 154.09h8.33M535.42 149.92v8.33M531.72 152.67h8.33M535.89 148.51v8.33M532.66 154.81h8.33M536.83 150.64v8.33M533.59 147.53h8.33M537.76 143.36v8.33M534.51 155.97h8.33M538.68 151.81v8.33M534.97 149.64h8.33M539.14 145.48v8.33M535.42 149.74h8.33M539.59 145.57v8.33M535.87 151.8h8.33M540.04 147.63v8.33M536.32 150.38h8.33M540.49 146.22v8.33M537.66 153.67h8.33M541.83 149.5v8.33M538.54 150.32h8.33M542.71 146.16v8.33M538.98 148.41h8.33M543.14 144.24v8.33M539.41 149.27h8.33M543.58 145.1v8.33M541.13 157.6h8.33M545.29 153.43v8.33M541.55 152.7h8.33M545.72 148.53v8.33M541.97 148h8.33M546.14 143.83v8.33M542.39 152.55h8.33M546.56 148.38v8.33M542.81 146.49h8.33M546.98 142.32v8.33M543.23 159.45h8.33M547.39 155.28v8.33M544.46 146.59h8.33M548.63 142.43v8.33M545.68 154.36h8.33M549.85 150.19v8.33M546.49 154.61h8.33M550.65 150.44v8.33M546.89 146.86h8.33M551.05 142.69v8.33M549.63 153.65h8.33M553.8 149.48v8.33M550.79 156.36h8.33M554.95 152.2v8.33M551.17 154.3h8.33M555.33 150.13v8.33M551.55 153.49h8.33M555.71 149.32v8.33M552.3 156.17h8.33M556.47 152.01v8.33M553.05 153.09h8.33M557.21 148.92v8.33M553.79 153.77h8.33M557.95 149.61v8.33M554.15 151.96h8.33M558.32 147.79v8.33M554.52 154.93h8.33M558.69 150.76v8.33M555.25 148.76h8.33M559.42 144.59v8.33M555.61 155.55h8.33M559.78 151.38v8.33M555.97 150.46h8.33M560.14 146.3v8.33M556.69 148.16h8.33M560.86 143.99v8.33M557.4 153.87h8.33M561.57 149.7v8.33M558.46 159.08h8.33M562.62 154.92v8.33M560.19 156.2h8.33M564.36 152.04v8.33M564.87 150.36h8.33M569.04 146.19v8.33M565.84 155.15h8.33M570.01 150.98v8.33M567.12 150.58h8.33M571.29 146.42v8.33M567.76 151.89h8.33M571.92 147.72v8.33M568.39 152.73h8.33M572.55 148.56v8.33M568.7 143.19h8.33M572.87 139.02v8.33M570.86 153.12h8.33M575.02 148.96v8.33M571.77 148.26h8.33M575.93 144.1v8.33M572.37 149.58h8.33M576.53 145.41v8.33M573.26 146.48h8.33M577.43 142.31v8.33M574.73 146.29h8.33M578.9 142.13v8.33M576.18 148.57h8.33M580.35 144.4v8.33M577.32 155.62h8.33M581.49 151.46v8.33M578.17 158.98h8.33M582.33 154.81v8.33M578.73 152.22h8.33M582.89 148.05v8.33M579 156.68h8.33M583.17 152.52v8.33M579.28 151.26h8.33M583.45 147.09v8.33M579.56 144.66h8.33M583.72 140.49v8.33M580.11 152.91h8.33M584.28 148.74v8.33M580.66 154.09h8.33M584.82 149.93v8.33M580.93 150.59h8.33M585.1 146.42v8.33M581.2 153.52h8.33M585.37 149.35v8.33M581.47 154.6h8.33M585.64 150.43v8.33M582.28 148.83h8.33M586.45 144.67v8.33M583.35 146.36h8.33M587.51 142.19v8.33M583.61 151.4h8.33M587.78 147.23v8.33M584.66 151.44h8.33M588.83 147.27v8.33M585.7 150.86h8.33M589.86 146.69v8.33M585.96 156.25h8.33M590.12 152.08v8.33M586.72 159.22h8.33M590.89 155.06v8.33M586.98 150.59h8.33M591.15 146.43v8.33M589.49 155.08h8.33M593.65 150.91v8.33M590.71 156.05h8.33M594.88 151.89v8.33M591.2 155.13h8.33M595.37 150.97v8.33M592.88 156.48h8.33M597.05 152.31v8.33M595.46 150.64h8.33M599.63 146.48v8.33M596.61 155.22h8.33M600.78 151.06v8.33M597.07 160.44h8.33M601.23 156.28v8.33M599.31 155.48h8.33M603.48 151.31v8.33M601.06 149.67h8.33M605.23 145.5v8.33M601.5 154.67h8.33M605.66 150.5v8.33M604.68 157.34h8.33M608.85 153.17v8.33M605.72 153.68h8.33M609.89 149.51v8.33M606.54 149.85h8.33M610.71 145.69v8.33M607.15 158.49h8.33M611.32 154.32v8.33M611.89 146.99h8.33M616.06 142.82v8.33M612.66 154.2h8.33M616.82 150.04v8.33M613.98 152.05h8.33M618.15 147.89v8.33M617.3 147.17h8.33M621.47 143v8.33M617.66 157.15h8.33M621.83 152.98v8.33M620.33 153.53h8.33M624.5 149.36v8.33M620.68 147.25h8.33M624.85 143.08v8.33M621.55 154.58h8.33M625.71 150.41v8.33M622.06 150.28h8.33M626.23 146.12v8.33M622.41 144.17h8.33M626.57 140.01v8.33M627.55 149.17h8.33M631.72 145.01v8.33M628.2 153.14h8.33M632.36 148.98v8.33M629.47 154.69h8.33M633.64 150.52v8.33M630.73 152.72h8.33M634.89 148.55v8.33M636.31 152.19h8.33M640.48 148.02v8.33M636.89 153.97h8.33M641.06 149.81v8.33M637.62 151.11h8.33M641.79 146.95v8.33M638.62 156.94h8.33M642.79 152.78v8.33M649.63 151.4h8.33M653.8 147.23v8.33M652.33 151.4h8.33M656.5 147.23v8.33M646.53 164.4h8.33M650.7 160.23v8.33M671.53 152.8h8.33M675.7 148.63v8.33M587.23 137.9h8.33M591.4 133.73v8.33M569.03 180.7h8.33M573.2 176.53v8.33M491.53 142.6h8.33M495.7 138.43v8.33"/>
<g fill="#008000" stroke="#000" stroke-width="0.69">
<path d="M68 166.41L71.82 172.6L68 178.79L64.18 172.6Z"/>
<path d="M129.87 174.63L133.7 180.81L129.87 187L126.05 180.81Z"/>
<path d="M166.06 174.04L169.89 180.22L166.06 186.41L162.24 180.22Z"/>
<path d="M191.74 173.53L195.57 179.72L191.74 185.9L187.92 179.72Z"/>
<path d="M211.66 172.5L215.49 178.69L211.66 184.87L207.84 178.69Z"/>
<path d="M227.94 171.15L231.76 177.34L227.94 183.53L224.11 177.34Z"/>
<path d="M241.7 169.12L245.52 175.31L241.7 181.5L237.87 175.31Z"/>
<path d="M253.62 168.02L257.44 174.2L253.62 180.39L249.79 174.2Z"/>
<path d="M264.13 166.98L267.95 173.17L264.13 179.35L260.31 173.17Z"/>
<path d="M273.53 166.81L277.36 173L273.53 179.19L269.71 173Z"/>
<path d="M282.04 166.11L285.86 172.29L282.04 178.48L278.22 172.29Z"/>
<path d="M289.81 165.06L293.63 171.25L289.81 177.44L285.98 171.25Z"/>
<path d="M296.95 163.74L300.78 169.93L296.95 176.11L293.13 169.93Z"/>
<path d="M303.57 163.88L307.39 170.07L303.57 176.25L299.74 170.07Z"/>
<path d="M309.73 162.89L313.55 169.08L309.73 175.27L305.9 169.08Z"/>
<path d="M315.49 163.93L319.31 170.11L315.49 176.3L311.66 170.11Z"/>
<path d="M320.9 163.01L324.72 169.2L320.9 175.38L317.07 169.2Z"/>
<path d="M326 162.7L329.82 168.88L326 175.07L322.18 168.88Z"/>
<path d="M330.83 161.5L334.65 167.69L330.83 173.88L327 167.69Z"/>
<path d="M335.41 161.73L339.23 167.92L335.41 174.1L331.58 167.92Z"/>
<path d="M339.76 161.45L343.58 167.63L339.76 173.82L335.94 167.63Z"/>
<path d="M343.91 160.06L347.74 166.25L343.91 172.43L340.09 166.25Z"/>
<path d="M347.88 159.5L351.7 165.69L347.88 171.88L344.06 165.69Z"/>
<path d="M351.68 159.63L355.5 165.81L351.68 172L347.86 165.81Z"/>
<path d="M355.32 158.63L359.15 164.81L355.32 171L351.5 164.81Z"/>
<path d="M358.82 158.29L362.65 164.48L358.82 170.67L355 164.48Z"/>
<path d="M362.19 158.44L366.02 164.62L362.19 170.81L358.37 164.62Z"/>
<path d="M365.44 157.41L369.26 163.6L365.44 169.78L361.62 163.6Z"/>
<path d="M368.57 159.65L372.4 165.84L368.57 172.02L364.75 165.84Z"/>
<path d="M371.6 155.26L375.42 161.44L371.6 167.63L367.77 161.44Z"/>
<path d="M374.52 159.47L378.35 165.65L374.52 171.84L370.7 165.65Z"/>
<path d="M377.36 156.55L381.18 162.73L377.36 168.92L373.53 162.73Z"/>
<path d="M380.11 156.49L383.93 162.68L380.11 168.87L376.28 162.68Z"/>
<path d="M382.77 154.62L386.59 160.81L382.77 167L378.95 160.81Z"/>
<path d="M385.36 156.95L389.18 163.14L385.36 169.32L381.53 163.14Z"/>
<path d="M387.87 156.56L391.7 162.74L387.87 168.93L384.05 162.74Z"/>
<path d="M390.32 157.38L394.14 163.57L390.32 169.76L386.49 163.57Z"/>
<path d="M392.7 155.56L396.52 161.75L392.7 167.94L388.87 161.75Z"/>
<path d="M395.02 156.88L398.84 163.07L395.02 169.25L391.19 163.07Z"/>
<path d="M397.28 160.94L401.1 167.13L397.28 173.32L393.45 167.13Z"/>
<path d="M399.48 157.4L403.3 163.58L399.48 169.77L395.66 163.58Z"/>
<path d="M401.63 154.79L405.46 160.98L401.63 167.17L397.81 160.98Z"/>
<path d="M403.73 158.56L407.56 164.74L403.73 170.93L399.91 164.74Z"/>
<path d="M405.78 155.65L409.61 161.84L405.78 168.03L401.96 161.84Z"/>
<path d="M407.79 157.42L411.61 163.61L407.79 169.8L403.97 163.61Z"/>
<path d="M409.75 157.37L413.58 163.56L409.75 169.75L405.93 163.56Z"/>
<path d="M411.67 154.57L415.5 160.75L411.67 166.94L407.85 160.75Z"/>
<path d="M413.55 150.24L417.37 156.43L413.55 162.62L409.73 156.43Z"/>
<path d="M415.39 154.43L419.22 160.62L415.39 166.8L411.57 160.62Z"/>
<path d="M417.19 156.81L421.02 163L417.19 169.19L413.37 163Z"/>
<path d="M418.96 154.1L422.79 160.28L418.96 166.47L415.14 160.28Z"/>
<path d="M420.7 156.31L424.52 162.49L420.7 168.68L416.87 162.49Z"/>
<path d="M422.4 157.77L426.22 163.95L422.4 170.14L418.57 163.95Z"/>
<path d="M424.06 153.27L427.89 159.46L424.06 165.64L420.24 159.46Z"/>
<path d="M425.7 158.35L429.53 164.54L425.7 170.73L421.88 164.54Z"/>
<path d="M427.31 159.44L431.13 165.63L427.31 171.81L423.49 165.63Z"/>
<path d="M428.89 157.77L432.71 163.95L428.89 170.14L425.07 163.95Z"/>
<path d="M430.44 157.96L434.27 164.14L430.44 170.33L426.62 164.14Z"/>
<path d="M431.97 157.68L435.79 163.87L431.97 170.06L428.15 163.87Z"/>
<path d="M433.47 161.16L437.29 167.34L433.47 173.53L429.65 167.34Z"/>
<path d="M434.94 154.74L438.77 160.93L434.94 167.12L431.12 160.93Z"/>
<path d="M436.4 154.09L440.22 160.28L436.4 166.46L432.57 160.28Z"/>
<path d="M437.82 155.88L441.65 162.07L437.82 168.25L434 162.07Z"/>
<path d="M439.23 151.04L443.05 157.23L439.23 163.42L435.41 157.23Z"/>
<path d="M440.61 148.88L444.44 155.07L440.61 161.26L436.79 155.07Z"/>
<path d="M441.98 150.91L445.8 157.1L441.98 163.29L438.15 157.1Z"/>
<path d="M443.32 154.85L447.14 161.04L443.32 167.23L439.5 161.04Z"/>
<path d="M444.64 155.1L448.47 161.29L444.64 167.48L440.82 161.29Z"/>
<path d="M445.94 148.47L449.77 154.66L445.94 160.84L442.12 154.66Z"/>
<path d="M447.23 147.22L451.05 153.4L447.23 159.59L443.41 153.4Z"/>
<path d="M448.5 152.28L452.32 158.47L448.5 164.66L444.67 158.47Z"/>
<path d="M449.74 152.62L453.57 158.81L449.74 165L445.92 158.81Z"/>
<path d="M450.97 153.01L454.8 159.2L450.97 165.38L447.15 159.2Z"/>
<path d="M452.19 155.36L456.01 161.55L452.19 167.74L448.37 161.55Z"/>
<path d="M453.39 157.19L457.21 163.38L453.39 169.56L449.56 163.38Z"/>
<path d="M454.57 153.74L458.39 159.93L454.57 166.11L450.75 159.93Z"/>
<path d="M455.74 154.98L459.56 161.17L455.74 167.35L451.91 161.17Z"/>
<path d="M456.89 149.03L460.71 155.22L456.89 161.4L453.06 155.22Z"/>
<path d="M458.03 148.66L461.85 154.84L458.03 161.03L454.2 154.84Z"/>
<path d="M459.15 153.49L462.97 159.68L459.15 165.86L455.32 159.68Z"/>
<path d="M460.26 154.94L464.08 161.13L460.26 167.32L456.43 161.13Z"/>
<path d="M461.35 155.17L465.18 161.35L461.35 167.54L457.53 161.35Z"/>
<path d="M462.43 154.7L466.26 160.89L462.43 167.07L458.61 160.89Z"/>
<path d="M463.5 155.39L467.33 161.58L463.5 167.77L459.68 161.58Z"/>
<path d="M464.56 155.49L468.38 161.68L464.56 167.87L460.74 161.68Z"/>
<path d="M465.6 146.18L469.43 152.37L465.6 158.55L461.78 152.37Z"/>
<path d="M466.64 149.86L470.46 156.04L466.64 162.23L462.81 156.04Z"/>
<path d="M467.66 154.22L471.48 160.4L467.66 166.59L463.83 160.4Z"/>
<path d="M468.66 154.74L472.49 160.93L468.66 167.12L464.84 160.93Z"/>
<path d="M469.66 146.86L473.49 153.05L469.66 159.23L465.84 153.05Z"/>
<path d="M470.65 156.92L474.47 163.11L470.65 169.3L466.82 163.11Z"/>
<path d="M471.62 150.83L475.45 157.02L471.62 163.21L467.8 157.02Z"/>
<path d="M472.59 151.6L476.41 157.79L472.59 163.97L468.77 157.79Z"/>
<path d="M473.54 153.53L477.37 159.72L473.54 165.9L469.72 159.72Z"/>
<path d="M474.49 155.36L478.31 161.55L474.49 167.74L470.66 161.55Z"/>
<path d="M475.42 146.89L479.25 153.08L475.42 159.26L471.6 153.08Z"/>
<path d="M476.35 156.32L480.17 162.51L476.35 168.69L472.52 162.51Z"/>
<path d="M477.26 152.74L481.09 158.93L477.26 165.12L473.44 158.93Z"/>
<path d="M478.17 149.38L481.99 155.57L478.17 161.76L474.35 155.57Z"/>
<path d="M479.07 151.33L482.89 157.51L479.07 163.7L475.24 157.51Z"/>
<path d="M479.95 143.67L483.78 149.86L479.95 156.05L476.13 149.86Z"/>
<path d="M480.83 149.8L484.66 155.99L480.83 162.17L477.01 155.99Z"/>
<path d="M481.71 153.13L485.53 159.32L481.71 165.51L477.88 159.32Z"/>
<path d="M482.57 149.51L486.39 155.69L482.57 161.88L478.74 155.69Z"/>
<path d="M483.42 151.04L487.25 157.23L483.42 163.41L479.6 157.23Z"/>
<path d="M484.27 151.77L488.09 157.95L484.27 164.14L480.44 157.95Z"/>
<path d="M485.11 152.56L488.93 158.75L485.11 164.94L481.28 158.75Z"/>
<path d="M485.94 156.59L489.76 162.77L485.94 168.96L482.11 162.77Z"/>
<path d="M486.76 152.24L490.58 158.43L486.76 164.62L482.94 158.43Z"/>
<path d="M487.57 151.25L491.4 157.44L487.57 163.62L483.75 157.44Z"/>
<path d="M488.38 154.6L492.21 160.78L488.38 166.97L484.56 160.78Z"/>
<path d="M489.18 161.1L493.01 167.29L489.18 173.48L485.36 167.29Z"/>
<path d="M489.98 150.86L493.8 157.04L489.98 163.23L486.15 157.04Z"/>
<path d="M490.76 154.49L494.59 160.68L490.76 166.87L486.94 160.68Z"/>
<path d="M491.54 145.53L495.37 151.72L491.54 157.91L487.72 151.72Z"/>
<path d="M492.31 158.09L496.14 164.27L492.31 170.46L488.49 164.27Z"/>
<path d="M493.08 155.14L496.9 161.32L493.08 167.51L489.26 161.32Z"/>
<path d="M493.84 158.07L497.66 164.25L493.84 170.44L490.02 164.25Z"/>
<path d="M494.59 152.01L498.42 158.2L494.59 164.38L490.77 158.2Z"/>
<path d="M495.34 147.69L499.16 153.88L495.34 160.06L491.52 153.88Z"/>
<path d="M496.08 156.15L499.91 162.34L496.08 168.53L492.26 162.34Z"/>
<path d="M496.82 155.58L500.64 161.76L496.82 167.95L492.99 161.76Z"/>
<path d="M497.55 148.39L501.37 154.58L497.55 160.76L493.72 154.58Z"/>
<path d="M498.27 145.67L502.09 151.85L498.27 158.04L494.44 151.85Z"/>
<path d="M498.98 154.23L502.81 160.42L498.98 166.61L495.16 160.42Z"/>
<path d="M499.7 151.45L503.52 157.63L499.7 163.82L495.87 157.63Z"/>
<path d="M500.4 163.99L504.23 170.18L500.4 176.36L496.58 170.18Z"/>
<path d="M501.1 149.42L504.93 155.61L501.1 161.8L497.28 155.61Z"/>
<path d="M501.8 149.79L505.62 155.98L501.8 162.17L497.97 155.98Z"/>
<path d="M502.49 151.68L506.31 157.87L502.49 164.06L498.66 157.87Z"/>
<path d="M503.17 144.56L506.99 150.74L503.17 156.93L499.35 150.74Z"/>
<path d="M503.85 148.09L507.67 154.28L503.85 160.46L500.02 154.28Z"/>
<path d="M504.52 159.75L508.35 165.94L504.52 172.13L500.7 165.94Z"/>
<path d="M505.19 151.55L509.01 157.74L505.19 163.93L501.37 157.74Z"/>
<path d="M505.85 149.33L509.68 155.51L505.85 161.7L502.03 155.51Z"/>
<path d="M506.51 146.22L510.34 152.4L506.51 158.59L502.69 152.4Z"/>
<path d="M507.17 154.86L510.99 161.04L507.17 167.23L503.34 161.04Z"/>
<path d="M507.82 155.23L511.64 161.41L507.82 167.6L503.99 161.41Z"/>
<path d="M508.46 153.34L512.28 159.52L508.46 165.71L504.64 159.52Z"/>
<path d="M509.1 150.28L512.92 156.47L509.1 162.66L505.28 156.47Z"/>
<path d="M509.74 153.56L513.56 159.75L509.74 165.94L505.91 159.75Z"/>
<path d="M510.37 153.93L514.19 160.11L510.37 166.3L506.54 160.11Z"/>
<path d="M510.99 148.85L514.82 155.04L510.99 161.23L507.17 155.04Z"/>
<path d="M511.62 155.08L515.44 161.27L511.62 167.45L507.79 161.27Z"/>
<path d="M512.23 141.92L516.06 148.11L512.23 154.3L508.41 148.11Z"/>
<path d="M512.85 145.87L516.67 152.06L512.85 158.24L509.02 152.06Z"/>
<path d="M513.46 150.61L517.28 156.8L513.46 162.98L509.63 156.8Z"/>
<path d="M514.06 151.55L517.88 157.73L514.06 163.92L510.24 157.73Z"/>
<path d="M514.66 146.4L518.49 152.59L514.66 158.77L510.84 152.59Z"/>
<path d="M515.26 153.66L519.08 159.85L515.26 166.04L511.44 159.85Z"/>
<path d="M515.85 157.22L519.68 163.41L515.85 169.6L512.03 163.41Z"/>
<path d="M516.44 154.26L520.27 160.45L516.44 166.64L512.62 160.45Z"/>
<path d="M517.03 153.15L520.85 159.34L517.03 165.52L513.2 159.34Z"/>
<path d="M517.61 156.13L521.43 162.32L517.61 168.5L513.78 162.32Z"/>
<path d="M518.19 154.03L522.01 160.22L518.19 166.41L514.36 160.22Z"/>
<path d="M518.76 146.35L522.58 152.54L518.76 158.72L514.94 152.54Z"/>
<path d="M519.33 151.01L523.15 157.2L519.33 163.38L515.51 157.2Z"/>
<path d="M519.9 158.47L523.72 164.65L519.9 170.84L516.07 164.65Z"/>
<path d="M520.46 146.31L524.28 152.49L520.46 158.68L516.64 152.49Z"/>
<path d="M521.02 152.32L524.84 158.5L521.02 164.69L517.2 158.5Z"/>
<path d="M521.58 150.04L525.4 156.22L521.58 162.41L517.75 156.22Z"/>
<path d="M522.13 147.45L525.95 153.64L522.13 159.83L518.31 153.64Z"/>
<path d="M523.22 146.84L527.05 153.03L523.22 159.22L519.4 153.03Z"/>
<path d="M524.31 152.49L528.13 158.67L524.31 164.86L520.48 158.67Z"/>
<path d="M524.84 153.58L528.67 159.77L524.84 165.95L521.02 159.77Z"/>
<path d="M525.38 153.55L529.2 159.73L525.38 165.92L521.55 159.73Z"/>
<path d="M526.43 144.49L530.26 150.67L526.43 156.86L522.61 150.67Z"/>
<path d="M526.96 150.45L530.78 156.64L526.96 162.82L523.13 156.64Z"/>
<path d="M527.48 153.73L531.3 159.92L527.48 166.11L523.65 159.92Z"/>
<path d="M527.99 156.86L531.82 163.04L527.99 169.23L524.17 163.04Z"/>
<path d="M528.51 155.43L532.33 161.62L528.51 167.81L524.68 161.62Z"/>
<path d="M529.02 156.27L532.84 162.46L529.02 168.64L525.2 162.46Z"/>
<path d="M529.53 157.66L533.35 163.85L529.53 170.04L525.7 163.85Z"/>
<path d="M530.03 156.24L533.86 162.43L530.03 168.61L526.21 162.43Z"/>
<path d="M530.54 147.62L534.36 153.8L530.54 159.99L526.71 153.8Z"/>
<path d="M531.04 152.21L534.86 158.4L531.04 164.58L527.21 158.4Z"/>
<path d="M531.53 148.13L535.36 154.31L531.53 160.5L527.71 154.31Z"/>
<path d="M532.03 139.27L535.85 145.46L532.03 151.64L528.2 145.46Z"/>
<path d="M532.52 142.96L536.34 149.14L532.52 155.33L528.7 149.14Z"/>
<path d="M533.01 163.01L536.83 169.19L533.01 175.38L529.19 169.19Z"/>
<path d="M533.5 145.91L537.32 152.1L533.5 158.29L529.67 152.1Z"/>
<path d="M534.46 139.85L538.28 146.03L534.46 152.22L530.64 146.03Z"/>
<path d="M534.94 148.72L538.76 154.91L534.94 161.1L531.12 154.91Z"/>
<path d="M535.89 160.06L539.71 166.25L535.89 172.43L532.07 166.25Z"/>
<path d="M536.83 151.6L540.65 157.79L536.83 163.98L533 157.79Z"/>
<path d="M539.14 154.06L542.96 160.24L539.14 166.43L535.31 160.24Z"/>
<path d="M540.04 150.33L543.86 156.51L540.04 162.7L536.22 156.51Z"/>
<path d="M540.94 151.35L544.76 157.54L540.94 163.73L537.11 157.54Z"/>
<path d="M541.38 158.81L545.21 164.99L541.38 171.18L537.56 164.99Z"/>
<path d="M541.83 156.21L545.65 162.4L541.83 168.59L538 162.4Z"/>
<path d="M542.27 151.34L546.09 157.52L542.27 163.71L538.44 157.52Z"/>
<path d="M542.71 156.75L546.53 162.94L542.71 169.13L538.88 162.94Z"/>
<path d="M543.58 157.78L547.4 163.97L543.58 170.15L539.75 163.97Z"/>
<path d="M544.01 150.59L547.83 156.78L544.01 162.97L540.19 156.78Z"/>
<path d="M544.44 153.32L548.26 159.5L544.44 165.69L540.62 159.5Z"/>
<path d="M544.87 153.23L548.69 159.42L544.87 165.6L541.04 159.42Z"/>
<path d="M546.56 148.07L550.38 154.26L546.56 160.45L542.74 154.26Z"/>
<path d="M547.81 158.28L551.63 164.46L547.81 170.65L543.98 164.46Z"/>
<path d="M548.22 150.87L552.04 157.06L548.22 163.25L544.4 157.06Z"/>
<path d="M549.85 148.31L553.67 154.5L549.85 160.69L546.03 154.5Z"/>
<path d="M550.65 142.33L554.48 148.52L550.65 154.7L546.83 148.52Z"/>
<path d="M551.05 144.64L554.88 150.83L551.05 157.02L547.23 150.83Z"/>
<path d="M551.45 160.46L555.28 166.65L551.45 172.84L547.63 166.65Z"/>
<path d="M552.24 145.33L556.07 151.52L552.24 157.71L548.42 151.52Z"/>
<path d="M553.41 154.26L557.24 160.45L553.41 166.64L549.59 160.45Z"/>
<path d="M554.57 149.71L558.39 155.9L554.57 162.09L550.75 155.9Z"/>
<path d="M555.33 154.74L559.16 160.93L555.33 167.12L551.51 160.93Z"/>
<path d="M556.47 155.27L560.29 161.46L556.47 167.65L552.64 161.46Z"/>
<path d="M556.84 147.35L560.66 153.53L556.84 159.72L553.02 153.53Z"/>
<path d="M557.21 150.13L561.04 156.32L557.21 162.51L553.39 156.32Z"/>
<path d="M557.58 152.39L561.41 158.57L557.58 164.76L553.76 158.57Z"/>
<path d="M559.05 152.48L562.88 158.66L559.05 164.85L555.23 158.66Z"/>
<path d="M559.42 151.65L563.24 157.83L559.42 164.02L555.59 157.83Z"/>
<path d="M560.86 149.99L564.68 156.18L560.86 162.37L557.03 156.18Z"/>
<path d="M561.21 155.47L565.04 161.66L561.21 167.85L557.39 161.66Z"/>
<path d="M562.27 159.5L566.1 165.68L562.27 171.87L558.45 165.68Z"/>
<path d="M563.67 154.98L567.49 161.16L563.67 167.35L559.84 161.16Z"/>
<path d="M564.7 147.47L568.52 153.66L564.7 159.84L560.88 153.66Z"/>
<path d="M566.73 154.15L570.55 160.34L566.73 166.52L562.91 160.34Z"/>
<path d="M567.06 152.17L570.89 158.36L567.06 164.55L563.24 158.36Z"/>
<path d="M567.4 154.54L571.22 160.73L567.4 166.92L563.57 160.73Z"/>
<path d="M569.69 162.78L573.51 168.97L569.69 175.16L565.86 168.97Z"/>
<path d="M570.01 150.54L573.83 156.73L570.01 162.91L566.19 156.73Z"/>
<path d="M570.33 151.74L574.16 157.93L570.33 164.12L566.51 157.93Z"/>
<path d="M572.24 146.51L576.06 152.69L572.24 158.88L568.42 152.69Z"/>
<path d="M573.49 150.08L577.31 156.27L573.49 162.45L569.66 156.27Z"/>
<path d="M575.63 148.38L579.45 154.57L575.63 160.75L571.81 154.57Z"/>
<path d="M575.93 161.47L579.76 167.66L575.93 173.85L572.11 167.66Z"/>
<path d="M576.53 153.65L580.36 159.84L576.53 166.03L572.71 159.84Z"/>
<path d="M577.13 148.35L580.95 154.54L577.13 160.72L573.31 154.54Z"/>
<path d="M577.72 163.52L581.55 169.7L577.72 175.89L573.9 169.7Z"/>
<path d="M580.35 143.7L584.17 149.89L580.35 156.08L576.52 149.89Z"/>
<path d="M580.63 157.07L584.46 163.26L580.63 169.45L576.81 163.26Z"/>
<path d="M582.33 158.05L586.16 164.23L582.33 170.42L578.51 164.23Z"/>
<path d="M582.61 155.34L586.44 161.52L582.61 167.71L578.79 161.52Z"/>
<path d="M582.89 150.21L586.72 156.4L582.89 162.58L579.07 156.4Z"/>
<path d="M586.45 151.01L590.27 157.2L586.45 163.39L582.62 157.2Z"/>
<path d="M586.98 149.68L590.8 155.87L586.98 162.06L583.16 155.87Z"/>
<path d="M587.25 156.69L591.07 162.88L587.25 169.07L583.42 162.88Z"/>
<path d="M587.51 137.34L591.34 143.53L587.51 149.72L583.69 143.53Z"/>
<path d="M588.04 148.63L591.86 154.82L588.04 161.01L584.22 154.82Z"/>
<path d="M588.83 152.76L592.65 158.95L588.83 165.13L585 158.95Z"/>
<path d="M589.09 148.19L592.91 154.38L589.09 160.56L585.26 154.38Z"/>
<path d="M589.35 140.47L593.17 146.66L589.35 152.84L585.52 146.66Z"/>
<path d="M592.41 150.29L596.23 156.47L592.41 162.66L588.58 156.47Z"/>
<path d="M592.91 147.06L596.73 153.25L592.91 159.43L589.08 153.25Z"/>
<path d="M593.65 156.86L597.48 163.05L593.65 169.23L589.83 163.05Z"/>
<path d="M595.85 160.67L599.67 166.86L595.85 173.04L592.03 166.86Z"/>
<path d="M596.09 152.25L599.92 158.44L596.09 164.63L592.27 158.44Z"/>
<path d="M596.33 139.54L600.16 145.73L596.33 151.92L592.51 145.73Z"/>
<path d="M596.57 150.57L600.4 156.75L596.57 162.94L592.75 156.75Z"/>
<path d="M597.29 145.94L601.11 152.12L597.29 158.31L593.46 152.12Z"/>
<path d="M597.76 156.15L601.58 162.34L597.76 168.53L593.94 162.34Z"/>
<path d="M598.47 162.6L602.29 168.79L598.47 174.97L594.64 168.79Z"/>
<path d="M599.86 153.84L603.68 160.03L599.86 166.22L596.04 160.03Z"/>
<path d="M600.09 164.84L603.91 171.03L600.09 177.22L596.27 171.03Z"/>
<path d="M603.7 161.59L607.52 167.78L603.7 173.96L599.87 167.78Z"/>
<path d="M605.01 156.32L608.84 162.51L605.01 168.7L601.19 162.51Z"/>
<path d="M606.1 146.23L609.92 152.42L606.1 158.6L602.27 152.42Z"/>
<path d="M607.38 153.17L611.2 159.36L607.38 165.55L603.55 159.36Z"/>
<path d="M608.01 143.08L611.83 149.27L608.01 155.46L604.19 149.27Z"/>
<path d="M608.85 159.33L612.67 165.52L608.85 171.71L605.03 165.52Z"/>
<path d="M609.89 153.38L613.71 159.56L609.89 165.75L606.06 159.56Z"/>
<path d="M610.09 161.63L613.92 167.82L610.09 174.01L606.27 167.82Z"/>
<path d="M611.52 154.57L615.34 160.76L611.52 166.95L607.7 160.76Z"/>
<path d="M613.52 139.9L617.35 146.09L613.52 152.27L609.7 146.09Z"/>
<path d="M614.11 157.02L617.94 163.21L614.11 169.4L610.29 163.21Z"/>
<path d="M616.06 158.95L619.88 165.14L616.06 171.32L612.23 165.14Z"/>
<path d="M617.21 163.86L621.03 170.05L617.21 176.23L613.38 170.05Z"/>
<path d="M617.77 146.31L621.6 152.49L617.77 158.68L613.95 152.49Z"/>
<path d="M617.96 146.64L621.79 152.83L617.96 159.01L614.14 152.83Z"/>
<path d="M621.11 153.24L624.93 159.42L621.11 165.61L617.28 159.42Z"/>
<path d="M623.08 145.68L626.91 151.87L623.08 158.06L619.26 151.87Z"/>
<path d="M623.44 143.5L627.26 149.68L623.44 155.87L619.62 149.68Z"/>
<path d="M623.79 145.38L627.62 151.56L623.79 157.75L619.97 151.56Z"/>
<path d="M624.5 170.29L628.32 176.47L624.5 182.66L620.67 176.47Z"/>
<path d="M629.43 148.4L633.26 154.58L629.43 160.77L625.61 154.58Z"/>
<path d="M632.36 145.68L636.19 151.86L632.36 158.05L628.54 151.86Z"/>
<path d="M633.16 149.52L636.99 155.71L633.16 161.9L629.34 155.71Z"/>
<path d="M635.67 152.59L639.49 158.78L635.67 164.97L631.84 158.78Z"/>
<path d="M636.28 161.52L640.11 167.7L636.28 173.89L632.46 167.7Z"/>
<path d="M637.96 159.13L641.78 165.32L637.96 171.51L634.13 165.32Z"/>
<path d="M638.26 158.03L642.08 164.22L638.26 170.41L634.43 164.22Z"/>
<path d="M641.5 152.84L645.32 159.03L641.5 165.22L637.67 159.03Z"/>
<path d="M643.5 153.63L647.32 159.81L643.5 166L639.68 159.81Z"/>
<path d="M518 130.31L521.82 136.5L518 142.69L514.18 136.5Z"/>
<path d="M526.6 133.81L530.42 140L526.6 146.19L522.78 140Z"/>
<path d="M566.9 134.41L570.72 140.6L566.9 146.79L563.08 140.6Z"/>
<path d="M584.9 137.81L588.72 144L584.9 150.19L581.08 144Z"/>
<path d="M633.8 142.11L637.62 148.3L633.8 154.49L629.98 148.3Z"/>
<path d="M641.5 153.31L645.32 159.5L641.5 165.69L637.68 159.5Z"/>
<path d="M643.2 162.71L647.02 168.9L643.2 175.09L639.38 168.9Z"/>
<path d="M629.5 161.01L633.32 167.2L629.5 173.39L625.68 167.2Z"/>
<path d="M622.6 160.11L626.42 166.3L622.6 172.49L618.78 166.3Z"/>
<path d="M614 164.41L617.82 170.6L614 176.79L610.18 170.6Z"/>
<path d="M601.2 161.81L605.02 168L601.2 174.19L597.38 168Z"/>
<path d="M578.9 172.11L582.72 178.3L578.9 184.49L575.08 178.3Z"/>
<path d="M574.6 167.01L578.42 173.2L574.6 179.39L570.78 173.2Z"/>
</g>
<path fill="none" stroke="#00b4b4" stroke-width="0.8" d="M63.83 165.48l8.33 8.33M63.83 173.81l8.33 -8.33M125.71 171.91l8.33 8.33M125.71 180.24l8.33 -8.33M161.9 172.62l8.33 8.33M161.9 180.95l8.33 -8.33M187.58 171.85l8.33 8.33M187.58 180.19l8.33 -8.33M207.49 170.93l8.33 8.33M207.49 179.26l8.33 -8.33M223.77 170.15l8.33 8.33M223.77 178.48l8.33 -8.33M237.53 168.38l8.33 8.33M237.53 176.71l8.33 -8.33M249.45 166.94l8.33 8.33M249.45 175.28l8.33 -8.33M259.96 165.38l8.33 8.33M259.96 173.71l8.33 -8.33M269.37 165.21l8.33 8.33M269.37 173.54l8.33 -8.33M277.87 164.76l8.33 8.33M277.87 173.1l8.33 -8.33M285.64 163.33l8.33 8.33M285.64 171.66l8.33 -8.33M292.79 162.76l8.33 8.33M292.79 171.09l8.33 -8.33M299.4 162.5l8.33 8.33M299.4 170.83l8.33 -8.33M305.56 161.97l8.33 8.33M305.56 170.3l8.33 -8.33M311.32 160.7l8.33 8.33M311.32 169.04l8.33 -8.33M316.73 160.17l8.33 8.33M316.73 168.51l8.33 -8.33M321.83 158.49l8.33 8.33M321.83 166.83l8.33 -8.33M326.66 160.81l8.33 8.33M326.66 169.14l8.33 -8.33M331.24 158.69l8.33 8.33M331.24 167.02l8.33 -8.33M335.59 159.76l8.33 8.33M335.59 168.1l8.33 -8.33M339.75 158.44l8.33 8.33M339.75 166.77l8.33 -8.33M343.71 159.77l8.33 8.33M343.71 168.11l8.33 -8.33M347.51 159.01l8.33 8.33M347.51 167.34l8.33 -8.33M351.16 157.19l8.33 8.33M351.16 165.52l8.33 -8.33M354.66 158.36l8.33 8.33M354.66 166.69l8.33 -8.33M358.03 154.76l8.33 8.33M358.03 163.09l8.33 -8.33M361.27 157.51l8.33 8.33M361.27 165.84l8.33 -8.33M364.4 153.2l8.33 8.33M364.4 161.53l8.33 -8.33M367.43 155.6l8.33 8.33M367.43 163.94l8.33 -8.33M370.36 156.48l8.33 8.33M370.36 164.81l8.33 -8.33M373.19 154.89l8.33 8.33M373.19 163.23l8.33 -8.33M375.94 153.66l8.33 8.33M375.94 161.99l8.33 -8.33M378.6 152.63l8.33 8.33M378.6 160.97l8.33 -8.33M381.19 153.16l8.33 8.33M381.19 161.5l8.33 -8.33M383.71 155.42l8.33 8.33M383.71 163.75l8.33 -8.33M386.15 154.93l8.33 8.33M386.15 163.26l8.33 -8.33M388.53 152.57l8.33 8.33M388.53 160.91l8.33 -8.33M390.85 150.45l8.33 8.33M390.85 158.79l8.33 -8.33M393.11 153.94l8.33 8.33M393.11 162.28l8.33 -8.33M395.31 149.53l8.33 8.33M395.31 157.86l8.33 -8.33M397.47 151.13l8.33 8.33M397.47 159.46l8.33 -8.33M399.57 150.47l8.33 8.33M399.57 158.81l8.33 -8.33M401.62 153.41l8.33 8.33M401.62 161.74l8.33 -8.33M403.62 152.14l8.33 8.33M403.62 160.47l8.33 -8.33M405.59 152.47l8.33 8.33M405.59 160.8l8.33 -8.33M407.51 151.88l8.33 8.33M407.51 160.21l8.33 -8.33M409.38 149.49l8.33 8.33M409.38 157.82l8.33 -8.33M411.22 152.17l8.33 8.33M411.22 160.51l8.33 -8.33M413.03 154.16l8.33 8.33M413.03 162.49l8.33 -8.33M414.8 150.46l8.33 8.33M414.8 158.8l8.33 -8.33M416.53 151.98l8.33 8.33M416.53 160.32l8.33 -8.33M418.23 149.9l8.33 8.33M418.23 158.24l8.33 -8.33M419.9 152.74l8.33 8.33M419.9 161.08l8.33 -8.33M421.54 151.67l8.33 8.33M421.54 160.01l8.33 -8.33M423.14 152.11l8.33 8.33M423.14 160.44l8.33 -8.33M424.72 150.55l8.33 8.33M424.72 158.89l8.33 -8.33M426.28 153.99l8.33 8.33M426.28 162.32l8.33 -8.33M427.8 148.3l8.33 8.33M427.8 156.63l8.33 -8.33M429.3 148.22l8.33 8.33M429.3 156.55l8.33 -8.33M430.78 147.33l8.33 8.33M430.78 155.66l8.33 -8.33M432.23 150.67l8.33 8.33M432.23 159l8.33 -8.33M433.66 146.92l8.33 8.33M433.66 155.25l8.33 -8.33M435.06 146.7l8.33 8.33M435.06 155.03l8.33 -8.33M436.45 150.68l8.33 8.33M436.45 159.01l8.33 -8.33M437.81 151.9l8.33 8.33M437.81 160.23l8.33 -8.33M439.15 150l8.33 8.33M439.15 158.33l8.33 -8.33M440.47 139.74l8.33 8.33M440.47 148.07l8.33 -8.33M441.78 144.97l8.33 8.33M441.78 153.31l8.33 -8.33M443.06 144.44l8.33 8.33M443.06 152.77l8.33 -8.33M444.33 143.85l8.33 8.33M444.33 152.19l8.33 -8.33M445.58 146.29l8.33 8.33M445.58 154.62l8.33 -8.33M446.81 153.45l8.33 8.33M446.81 161.78l8.33 -8.33M448.02 146.36l8.33 8.33M448.02 154.7l8.33 -8.33M449.22 144.81l8.33 8.33M449.22 153.15l8.33 -8.33M450.4 149.5l8.33 8.33M450.4 157.84l8.33 -8.33M451.57 147.28l8.33 8.33M451.57 155.61l8.33 -8.33M452.72 147.34l8.33 8.33M452.72 155.68l8.33 -8.33M453.86 144.45l8.33 8.33M453.86 152.79l8.33 -8.33M454.98 146.71l8.33 8.33M454.98 155.04l8.33 -8.33M456.09 148.15l8.33 8.33M456.09 156.49l8.33 -8.33M457.19 139.86l8.33 8.33M457.19 148.19l8.33 -8.33M458.27 140.86l8.33 8.33M458.27 149.19l8.33 -8.33M459.34 150.47l8.33 8.33M459.34 158.8l8.33 -8.33M460.39 149.61l8.33 8.33M460.39 157.94l8.33 -8.33M461.44 144.7l8.33 8.33M461.44 153.03l8.33 -8.33M462.47 142.79l8.33 8.33M462.47 151.12l8.33 -8.33M463.49 145.82l8.33 8.33M463.49 154.16l8.33 -8.33M464.5 142.06l8.33 8.33M464.5 150.39l8.33 -8.33M465.5 145.2l8.33 8.33M465.5 153.54l8.33 -8.33M466.48 152.68l8.33 8.33M466.48 161.01l8.33 -8.33M467.46 146.95l8.33 8.33M467.46 155.28l8.33 -8.33M468.42 150.88l8.33 8.33M468.42 159.21l8.33 -8.33M469.38 145.56l8.33 8.33M469.38 153.89l8.33 -8.33M470.32 147.82l8.33 8.33M470.32 156.16l8.33 -8.33M471.26 151.77l8.33 8.33M471.26 160.1l8.33 -8.33M472.18 141.15l8.33 8.33M472.18 149.48l8.33 -8.33M473.1 144.99l8.33 8.33M473.1 153.32l8.33 -8.33M474 145.72l8.33 8.33M474 154.05l8.33 -8.33M474.9 147.44l8.33 8.33M474.9 155.78l8.33 -8.33M475.79 152.52l8.33 8.33M475.79 160.86l8.33 -8.33M476.67 149.05l8.33 8.33M476.67 157.38l8.33 -8.33M477.54 140.23l8.33 8.33M477.54 148.56l8.33 -8.33M478.4 145.17l8.33 8.33M478.4 153.5l8.33 -8.33M479.26 142.6l8.33 8.33M479.26 150.94l8.33 -8.33M480.1 142.46l8.33 8.33M480.1 150.8l8.33 -8.33M480.94 154.58l8.33 8.33M480.94 162.92l8.33 -8.33M481.77 141.8l8.33 8.33M481.77 150.14l8.33 -8.33M482.59 147.18l8.33 8.33M482.59 155.52l8.33 -8.33M483.41 143.19l8.33 8.33M483.41 151.52l8.33 -8.33M484.22 149.8l8.33 8.33M484.22 158.13l8.33 -8.33M485.02 147.66l8.33 8.33M485.02 155.99l8.33 -8.33M485.81 146.69l8.33 8.33M485.81 155.02l8.33 -8.33M486.6 145.81l8.33 8.33M486.6 154.14l8.33 -8.33M487.38 151l8.33 8.33M487.38 159.33l8.33 -8.33M488.15 142.09l8.33 8.33M488.15 150.43l8.33 -8.33M488.91 142.95l8.33 8.33M488.91 151.28l8.33 -8.33M489.67 141.23l8.33 8.33M489.67 149.56l8.33 -8.33M490.43 151.9l8.33 8.33M490.43 160.23l8.33 -8.33M491.17 144.77l8.33 8.33M491.17 153.11l8.33 -8.33M491.92 141.48l8.33 8.33M491.92 149.81l8.33 -8.33M492.65 144.18l8.33 8.33M492.65 152.52l8.33 -8.33M493.38 157.12l8.33 8.33M493.38 165.45l8.33 -8.33M494.1 145.53l8.33 8.33M494.1 153.87l8.33 -8.33M494.82 149.8l8.33 8.33M494.82 158.14l8.33 -8.33M495.53 148.08l8.33 8.33M495.53 156.41l8.33 -8.33M496.24 145.92l8.33 8.33M496.24 154.25l8.33 -8.33M496.94 142.83l8.33 8.33M496.94 151.16l8.33 -8.33M497.63 144.43l8.33 8.33M497.63 152.77l8.33 -8.33M498.32 144.33l8.33 8.33M498.32 152.66l8.33 -8.33M499 135.82l8.33 8.33M499 144.15l8.33 -8.33M499.68 157.83l8.33 8.33M499.68 166.16l8.33 -8.33M500.36 150.18l8.33 8.33M500.36 158.51l8.33 -8.33M501.02 146.44l8.33 8.33M501.02 154.77l8.33 -8.33M501.69 144.94l8.33 8.33M501.69 153.28l8.33 -8.33M502.35 142.2l8.33 8.33M502.35 150.53l8.33 -8.33M503 150.31l8.33 8.33M503 158.64l8.33 -8.33M503.65 144.98l8.33 8.33M503.65 153.31l8.33 -8.33M504.29 148.1l8.33 8.33M504.29 156.44l8.33 -8.33M504.93 139.28l8.33 8.33M504.93 147.61l8.33 -8.33M505.57 147.62l8.33 8.33M505.57 155.95l8.33 -8.33M506.2 155.33l8.33 8.33M506.2 163.67l8.33 -8.33M506.83 144.42l8.33 8.33M506.83 152.76l8.33 -8.33M507.45 149.63l8.33 8.33M507.45 157.96l8.33 -8.33M508.07 145.95l8.33 8.33M508.07 154.29l8.33 -8.33M508.68 151.1l8.33 8.33M508.68 159.44l8.33 -8.33M509.29 150.93l8.33 8.33M509.29 159.26l8.33 -8.33M509.89 146.05l8.33 8.33M509.89 154.39l8.33 -8.33M510.5 143.02l8.33 8.33M510.5 151.36l8.33 -8.33M511.09 147.14l8.33 8.33M511.09 155.47l8.33 -8.33M511.69 145.93l8.33 8.33M511.69 154.26l8.33 -8.33M512.27 142.68l8.33 8.33M512.27 151.01l8.33 -8.33M512.86 147.96l8.33 8.33M512.86 156.29l8.33 -8.33M513.44 147.83l8.33 8.33M513.44 156.17l8.33 -8.33M514.02 141.28l8.33 8.33M514.02 149.62l8.33 -8.33M514.59 145.12l8.33 8.33M514.59 153.46l8.33 -8.33M515.16 160.23l8.33 8.33M515.16 168.56l8.33 -8.33M515.73 149.74l8.33 8.33M515.73 158.08l8.33 -8.33M516.29 146.14l8.33 8.33M516.29 154.47l8.33 -8.33M516.85 158.26l8.33 8.33M516.85 166.59l8.33 -8.33M517.41 143.34l8.33 8.33M517.41 151.67l8.33 -8.33M517.96 133.11l8.33 8.33M517.96 141.44l8.33 -8.33M518.51 135.95l8.33 8.33M518.51 144.29l8.33 -8.33M519.06 137.89l8.33 8.33M519.06 146.22l8.33 -8.33M519.6 146.92l8.33 8.33M519.6 155.26l8.33 -8.33M520.14 150.58l8.33 8.33M520.14 158.91l8.33 -8.33M520.68 134.47l8.33 8.33M520.68 142.8l8.33 -8.33M521.21 151.31l8.33 8.33M521.21 159.64l8.33 -8.33M521.74 139.24l8.33 8.33M521.74 147.58l8.33 -8.33M522.26 146.88l8.33 8.33M522.26 155.21l8.33 -8.33M522.79 147.95l8.33 8.33M522.79 156.28l8.33 -8.33M523.31 147.78l8.33 8.33M523.31 156.11l8.33 -8.33M523.83 145.57l8.33 8.33M523.83 153.9l8.33 -8.33M524.34 146.41l8.33 8.33M524.34 154.74l8.33 -8.33M524.85 139.56l8.33 8.33M524.85 147.89l8.33 -8.33M525.36 146.96l8.33 8.33M525.36 155.29l8.33 -8.33M525.87 150.64l8.33 8.33M525.87 158.97l8.33 -8.33M526.37 150.36l8.33 8.33M526.37 158.7l8.33 -8.33M526.87 159.26l8.33 8.33M526.87 167.6l8.33 -8.33M527.37 151.2l8.33 8.33M527.37 159.53l8.33 -8.33M527.86 149.31l8.33 8.33M527.86 157.65l8.33 -8.33M528.35 154.29l8.33 8.33M528.35 162.63l8.33 -8.33M528.84 146.73l8.33 8.33M528.84 155.06l8.33 -8.33M529.33 138.55l8.33 8.33M529.33 146.89l8.33 -8.33M529.81 133.45l8.33 8.33M529.81 141.78l8.33 -8.33M530.29 152.27l8.33 8.33M530.29 160.6l8.33 -8.33M530.77 148.47l8.33 8.33M530.77 156.8l8.33 -8.33M531.25 149.97l8.33 8.33M531.25 158.3l8.33 -8.33M531.72 143.6l8.33 8.33M531.72 151.94l8.33 -8.33M532.19 147.26l8.33 8.33M532.19 155.59l8.33 -8.33M532.66 155.59l8.33 8.33M532.66 163.92l8.33 -8.33M533.13 147.2l8.33 8.33M533.13 155.53l8.33 -8.33M533.59 139.3l8.33 8.33M533.59 147.63l8.33 -8.33M534.05 143.01l8.33 8.33M534.05 151.34l8.33 -8.33M534.51 152.93l8.33 8.33M534.51 161.26l8.33 -8.33M534.97 139.38l8.33 8.33M534.97 147.71l8.33 -8.33M535.42 131.17l8.33 8.33M535.42 139.5l8.33 -8.33M535.87 132.72l8.33 8.33M535.87 141.05l8.33 -8.33M536.32 137.97l8.33 8.33M536.32 146.3l8.33 -8.33M536.77 149.73l8.33 8.33M536.77 158.07l8.33 -8.33M537.22 145.82l8.33 8.33M537.22 154.15l8.33 -8.33M537.66 141.16l8.33 8.33M537.66 149.49l8.33 -8.33M538.1 138.25l8.33 8.33M538.1 146.58l8.33 -8.33M538.54 144.7l8.33 8.33M538.54 153.04l8.33 -8.33M538.98 144.45l8.33 8.33M538.98 152.79l8.33 -8.33M539.41 142.22l8.33 8.33M539.41 150.55l8.33 -8.33M539.84 143.98l8.33 8.33M539.84 152.31l8.33 -8.33M540.27 141.12l8.33 8.33M540.27 149.45l8.33 -8.33M540.7 155.29l8.33 8.33M540.7 163.63l8.33 -8.33M541.13 132.25l8.33 8.33M541.13 140.59l8.33 -8.33M541.55 146.01l8.33 8.33M541.55 154.34l8.33 -8.33M541.97 139.72l8.33 8.33M541.97 148.06l8.33 -8.33M542.39 149.24l8.33 8.33M542.39 157.58l8.33 -8.33M542.81 144.03l8.33 8.33M542.81 152.37l8.33 -8.33M543.23 147.36l8.33 8.33M543.23 155.69l8.33 -8.33M543.64 148.28l8.33 8.33M543.64 156.61l8.33 -8.33M544.05 146.47l8.33 8.33M544.05 154.8l8.33 -8.33M544.46 150.83l8.33 8.33M544.46 159.16l8.33 -8.33M544.87 137.62l8.33 8.33M544.87 145.95l8.33 -8.33M545.28 150.61l8.33 8.33M545.28 158.95l8.33 -8.33M546.09 144.12l8.33 8.33M546.09 152.45l8.33 -8.33M546.49 147.45l8.33 8.33M546.49 155.78l8.33 -8.33M546.89 153.98l8.33 8.33M546.89 162.31l8.33 -8.33M547.29 151.58l8.33 8.33M547.29 159.92l8.33 -8.33M547.68 156.36l8.33 8.33M547.68 164.7l8.33 -8.33M548.08 132.82l8.33 8.33M548.08 141.15l8.33 -8.33M548.47 140.02l8.33 8.33M548.47 148.35l8.33 -8.33M548.86 150.7l8.33 8.33M548.86 159.03l8.33 -8.33M549.63 139.04l8.33 8.33M549.63 147.37l8.33 -8.33M550.02 144.32l8.33 8.33M550.02 152.65l8.33 -8.33M550.4 154.85l8.33 8.33M550.4 163.18l8.33 -8.33M550.79 150.21l8.33 8.33M550.79 158.54l8.33 -8.33M551.17 139.97l8.33 8.33M551.17 148.3l8.33 -8.33M551.55 147.86l8.33 8.33M551.55 156.2l8.33 -8.33M551.92 148.93l8.33 8.33M551.92 157.27l8.33 -8.33M552.3 145.71l8.33 8.33M552.3 154.04l8.33 -8.33M552.67 144.77l8.33 8.33M552.67 153.11l8.33 -8.33M553.05 146.12l8.33 8.33M553.05 154.46l8.33 -8.33M553.42 136.95l8.33 8.33M553.42 145.28l8.33 -8.33M553.79 146.04l8.33 8.33M553.79 154.37l8.33 -8.33M554.15 139.93l8.33 8.33M554.15 148.26l8.33 -8.33M554.52 147.53l8.33 8.33M554.52 155.87l8.33 -8.33M554.89 147.73l8.33 8.33M554.89 156.07l8.33 -8.33M555.25 140.34l8.33 8.33M555.25 148.67l8.33 -8.33M555.97 148.76l8.33 8.33M555.97 157.1l8.33 -8.33M557.4 147.33l8.33 8.33M557.4 155.66l8.33 -8.33M558.11 145.1l8.33 8.33M558.11 153.43l8.33 -8.33M558.46 149.41l8.33 8.33M558.46 157.74l8.33 -8.33M559.15 143.58l8.33 8.33M559.15 151.91l8.33 -8.33M559.5 143.74l8.33 8.33M559.5 152.07l8.33 -8.33M559.85 145.77l8.33 8.33M559.85 154.1l8.33 -8.33M560.19 145l8.33 8.33M560.19 153.33l8.33 -8.33M560.53 151.76l8.33 8.33M560.53 160.09l8.33 -8.33M560.87 131.98l8.33 8.33M560.87 140.31l8.33 -8.33M561.55 143.59l8.33 8.33M561.55 151.92l8.33 -8.33M561.89 133.99l8.33 8.33M561.89 142.32l8.33 -8.33M562.23 142.37l8.33 8.33M562.23 150.7l8.33 -8.33M562.56 146.64l8.33 8.33M562.56 154.97l8.33 -8.33M562.9 145.21l8.33 8.33M562.9 153.54l8.33 -8.33M563.23 150.63l8.33 8.33M563.23 158.96l8.33 -8.33M563.56 146.95l8.33 8.33M563.56 155.28l8.33 -8.33M564.22 129.67l8.33 8.33M564.22 138l8.33 -8.33M564.55 138.8l8.33 8.33M564.55 147.13l8.33 -8.33M564.87 153.88l8.33 8.33M564.87 162.21l8.33 -8.33M565.52 153.9l8.33 8.33M565.52 162.23l8.33 -8.33M566.49 145.63l8.33 8.33M566.49 153.96l8.33 -8.33M566.81 136.28l8.33 8.33M566.81 144.61l8.33 -8.33M567.12 157.32l8.33 8.33M567.12 165.65l8.33 -8.33M567.44 133.15l8.33 8.33M567.44 141.48l8.33 -8.33M567.76 146.75l8.33 8.33M567.76 155.08l8.33 -8.33M569.01 144.7l8.33 8.33M569.01 153.03l8.33 -8.33M569.32 146.34l8.33 8.33M569.32 154.68l8.33 -8.33M570.86 138.29l8.33 8.33M570.86 146.63l8.33 -8.33M571.77 142.65l8.33 8.33M571.77 150.98l8.33 -8.33M572.37 151.03l8.33 8.33M572.37 159.36l8.33 -8.33M572.67 142.11l8.33 8.33M572.67 150.45l8.33 -8.33M572.96 137.02l8.33 8.33M572.96 145.36l8.33 -8.33M573.56 144.78l8.33 8.33M573.56 153.12l8.33 -8.33M573.85 145.37l8.33 8.33M573.85 153.7l8.33 -8.33M575.31 144.08l8.33 8.33M575.31 152.41l8.33 -8.33M577.04 140.33l8.33 8.33M577.04 148.66l8.33 -8.33M577.6 147.93l8.33 8.33M577.6 156.26l8.33 -8.33M577.88 144.12l8.33 8.33M577.88 152.45l8.33 -8.33M578.73 138.11l8.33 8.33M578.73 146.44l8.33 -8.33M579 146.09l8.33 8.33M579 154.42l8.33 -8.33M579.83 144.66l8.33 8.33M579.83 153l8.33 -8.33M580.11 145.67l8.33 8.33M580.11 154l8.33 -8.33M580.66 135.07l8.33 8.33M580.66 143.4l8.33 -8.33M580.93 140.42l8.33 8.33M580.93 148.76l8.33 -8.33M581.74 147.47l8.33 8.33M581.74 155.8l8.33 -8.33M582.28 150.21l8.33 8.33M582.28 158.55l8.33 -8.33M582.81 146.87l8.33 8.33M582.81 155.21l8.33 -8.33M583.08 145.82l8.33 8.33M583.08 154.15l8.33 -8.33M583.61 149.11l8.33 8.33M583.61 157.44l8.33 -8.33M583.87 150.61l8.33 8.33M583.87 158.95l8.33 -8.33M584.4 155.15l8.33 8.33M584.4 163.48l8.33 -8.33M584.92 147.72l8.33 8.33M584.92 156.06l8.33 -8.33M585.44 141.78l8.33 8.33M585.44 150.11l8.33 -8.33M585.7 147.82l8.33 8.33M585.7 156.16l8.33 -8.33M586.47 133.86l8.33 8.33M586.47 142.19l8.33 -8.33M587.99 145.45l8.33 8.33M587.99 153.78l8.33 -8.33M588.24 142.58l8.33 8.33M588.24 150.92l8.33 -8.33M589.73 145.04l8.33 8.33M589.73 153.37l8.33 -8.33M590.47 148.03l8.33 8.33M590.47 156.36l8.33 -8.33M590.71 145.5l8.33 8.33M590.71 153.83l8.33 -8.33M590.96 136.83l8.33 8.33M590.96 145.16l8.33 -8.33M592.41 143.16l8.33 8.33M592.41 151.49l8.33 -8.33M594.06 140.59l8.33 8.33M594.06 148.92l8.33 -8.33M594.3 145.13l8.33 8.33M594.3 153.46l8.33 -8.33M594.53 147.35l8.33 8.33M594.53 155.68l8.33 -8.33M594.77 139.68l8.33 8.33M594.77 148.01l8.33 -8.33M595 149.53l8.33 8.33M595 157.86l8.33 -8.33M596.15 152.84l8.33 8.33M596.15 161.17l8.33 -8.33M596.84 143.71l8.33 8.33M596.84 152.05l8.33 -8.33M598.2 149.53l8.33 8.33M598.2 157.86l8.33 -8.33M598.64 136.67l8.33 8.33M598.64 145.01l8.33 -8.33M599.09 142.15l8.33 8.33M599.09 150.48l8.33 -8.33M599.31 150.91l8.33 8.33M599.31 159.24l8.33 -8.33M599.75 135.02l8.33 8.33M599.75 143.36l8.33 -8.33M599.97 142.35l8.33 8.33M599.97 150.68l8.33 -8.33M602.57 140.07l8.33 8.33M602.57 148.4l8.33 -8.33M602.79 152.01l8.33 8.33M602.79 160.34l8.33 -8.33M603 151.99l8.33 8.33M603 160.32l8.33 -8.33M603.21 141.66l8.33 8.33M603.21 149.99l8.33 -8.33M603.63 146.02l8.33 8.33M603.63 154.36l8.33 -8.33M603.84 130.04l8.33 8.33M603.84 138.37l8.33 -8.33M605.31 150.27l8.33 8.33M605.31 158.61l8.33 -8.33M605.51 147.35l8.33 8.33M605.51 155.68l8.33 -8.33M606.13 153.07l8.33 8.33M606.13 161.4l8.33 -8.33M606.34 131.32l8.33 8.33M606.34 139.66l8.33 -8.33M608.16 147.34l8.33 8.33M608.16 155.67l8.33 -8.33M608.56 143.23l8.33 8.33M608.56 151.56l8.33 -8.33M608.96 129.98l8.33 8.33M608.96 138.31l8.33 -8.33M609.16 141.24l8.33 8.33M609.16 149.57l8.33 -8.33M609.36 144.83l8.33 8.33M609.36 153.16l8.33 -8.33M610.34 150.02l8.33 8.33M610.34 158.35l8.33 -8.33M610.73 146.45l8.33 8.33M610.73 154.78l8.33 -8.33M611.51 142.26l8.33 8.33M611.51 150.6l8.33 -8.33M611.7 147.91l8.33 8.33M611.7 156.25l8.33 -8.33M612.08 144.66l8.33 8.33M612.08 152.99l8.33 -8.33M612.28 141.47l8.33 8.33M612.28 149.8l8.33 -8.33M613.04 139.29l8.33 8.33M613.04 147.62l8.33 -8.33M613.61 146.17l8.33 8.33M613.61 154.51l8.33 -8.33M613.79 146.22l8.33 8.33M613.79 154.56l8.33 -8.33M613.98 156.15l8.33 8.33M613.98 164.48l8.33 -8.33M614.92 142.64l8.33 8.33M614.92 150.97l8.33 -8.33M615.29 154.76l8.33 8.33M615.29 163.1l8.33 -8.33M616.76 147.38l8.33 8.33M616.76 155.71l8.33 -8.33M619.1 152.28l8.33 8.33M619.1 160.61l8.33 -8.33M619.98 139.94l8.33 8.33M619.98 148.28l8.33 -8.33M621.37 140.13l8.33 8.33M621.37 148.46l8.33 -8.33M621.55 143.48l8.33 8.33M621.55 151.82l8.33 -8.33M621.89 150.63l8.33 8.33M621.89 158.96l8.33 -8.33M622.06 146.36l8.33 8.33M622.06 154.69l8.33 -8.33M622.75 149.79l8.33 8.33M622.75 158.12l8.33 -8.33M622.92 147.21l8.33 8.33M622.92 155.54l8.33 -8.33M623.26 151.43l8.33 8.33M623.26 159.77l8.33 -8.33M626.91 146.51l8.33 8.33M626.91 154.84l8.33 -8.33M627.23 142.2l8.33 8.33M627.23 150.53l8.33 -8.33M627.88 148.4l8.33 8.33M627.88 156.73l8.33 -8.33M628.2 145.87l8.33 8.33M628.2 154.2l8.33 -8.33M628.84 155.76l8.33 8.33M628.84 164.1l8.33 -8.33M629.31 144.38l8.33 8.33M629.31 152.71l8.33 -8.33M629.79 145.98l8.33 8.33M629.79 154.32l8.33 -8.33M629.94 143.5l8.33 8.33M629.94 151.84l8.33 -8.33M630.1 152.24l8.33 8.33M630.1 160.57l8.33 -8.33M630.26 150.56l8.33 8.33M630.26 158.89l8.33 -8.33M631.04 149.22l8.33 8.33M631.04 157.56l8.33 -8.33M631.35 137.88l8.33 8.33M631.35 146.21l8.33 -8.33M632.12 136.26l8.33 8.33M632.12 144.6l8.33 -8.33M634.09 146.92l8.33 8.33M634.09 155.25l8.33 -8.33M634.24 149.66l8.33 8.33M634.24 157.99l8.33 -8.33M634.39 154.2l8.33 8.33M634.39 162.53l8.33 -8.33M634.98 134.57l8.33 8.33M634.98 142.9l8.33 -8.33M635.58 144.31l8.33 8.33M635.58 152.65l8.33 -8.33M635.72 135.19l8.33 8.33M635.72 143.52l8.33 -8.33M636.31 139.57l8.33 8.33M636.31 147.9l8.33 -8.33M637.33 144.01l8.33 8.33M637.33 152.34l8.33 -8.33M637.47 151.11l8.33 8.33M637.47 159.44l8.33 -8.33M637.62 142.17l8.33 8.33M637.62 150.51l8.33 -8.33M637.76 141.02l8.33 8.33M637.76 149.36l8.33 -8.33M638.91 143.41l8.33 8.33M638.91 151.75l8.33 -8.33M639.19 152.88l8.33 8.33M639.19 161.21l8.33 -8.33M663.53 153.53l8.33 8.33M663.53 161.87l8.33 -8.33M655.43 142.83l8.33 8.33M655.43 151.17l8.33 -8.33M647.43 141.03l8.33 8.33M647.43 149.37l8.33 -8.33M648.33 155.33l8.33 8.33M648.33 163.67l8.33 -8.33M680.03 154.83l8.33 8.33M680.03 163.17l8.33 -8.33M636.83 140.53l8.33 8.33M636.83 148.87l8.33 -8.33M635.63 139.03l8.33 8.33M635.63 147.37l8.33 -8.33M621.03 139.03l8.33 8.33M621.03 147.37l8.33 -8.33M608.13 135.53l8.33 8.33M608.13 143.87l8.33 -8.33M577.33 133.03l8.33 8.33M577.33 141.37l8.33 -8.33M541.23 131.23l8.33 8.33M541.23 139.57l8.33 -8.33M584.13 171.53l8.33 8.33M584.13 179.87l8.33 -8.33M603.03 138.13l8.33 8.33M603.03 146.47l8.33 -8.33"/>
</g>
<path fill="none" stroke="#000" stroke-width="0.9" d="M68 500.5v-5.56M68 23.3v5.56M129.87 500.5v-2.78M129.87 23.3v2.78M166.06 500.5v-2.78M166.06 23.3v2.78M191.74 500.5v-2.78M191.74 23.3v2.78M211.66 500.5v-2.78M211.66 23.3v2.78M227.94 500.5v-2.78M227.94 23.3v2.78M241.7 500.5v-2.78M241.7 23.3v2.78M253.62 500.5v-2.78M253.62 23.3v2.78M264.13 500.5v-2.78M264.13 23.3v2.78M273.53 500.5v-5.56M273.53 23.3v5.56M335.41 500.5v-2.78M335.41 23.3v2.78M371.6 500.5v-2.78M371.6 23.3v2.78M397.28 500.5v-2.78M397.28 23.3v2.78M417.19 500.5v-2.78M417.19 23.3v2.78M433.47 500.5v-2.78M433.47 23.3v2.78M447.23 500.5v-2.78M447.23 23.3v2.78M459.15 500.5v-2.78M459.15 23.3v2.78M469.66 500.5v-2.78M469.66 23.3v2.78M479.07 500.5v-5.56M479.07 23.3v5.56M540.94 500.5v-2.78M540.94 23.3v2.78M577.13 500.5v-2.78M577.13 23.3v2.78M602.81 500.5v-2.78M602.81 23.3v2.78M622.73 500.5v-2.78M622.73 23.3v2.78M639 500.5v-2.78M639 23.3v2.78M652.76 500.5v-2.78M652.76 23.3v2.78M664.68 500.5v-2.78M664.68 23.3v2.78M675.2 500.5v-2.78M675.2 23.3v2.78M684.6 500.5v-5.56M684.6 23.3v5.56M68 500.5h5.56M684.6 500.5h-5.56M68 428.67h2.78M684.6 428.67h-2.78M68 386.66h2.78M684.6 386.66h-2.78M68 356.85h2.78M684.6 356.85h-2.78M68 333.73h2.78M684.6 333.73h-2.78M68 314.83h2.78M684.6 314.83h-2.78M68 298.86h2.78M684.6 298.86h-2.78M68 285.02h2.78M684.6 285.02h-2.78M68 272.82h2.78M684.6 272.82h-2.78M68 261.9h5.56M684.6 261.9h-5.56M68 190.07h2.78M684.6 190.07h-2.78M68 148.06h2.78M684.6 148.06h-2.78M68 118.25h2.78M684.6 118.25h-2.78M68 95.13h2.78M684.6 95.13h-2.78M68 76.23h2.78M684.6 76.23h-2.78M68 60.26h2.78M684.6 60.26h-2.78M68 46.42h2.78M684.6 46.42h-2.78M68 34.22h2.78M684.6 34.22h-2.78M68 23.3h5.56M684.6 23.3h-5.56"/>
<rect x="68" y="23.3" width="616.6" height="477.2" fill="none" stroke="#000" stroke-width="1.39"/>
<g font-family="DejaVu Sans, Liberation Sans, sans-serif" fill="#000">
<text x="376.3" y="15.6" font-size="20" text-anchor="middle">Facet degree correlations</text>
<text x="295.85" y="552.7" font-size="25">Facet degree</text>
<text transform="translate(19.7 285.5) rotate(-90)" font-size="25">k<tspan dy="6.4" dx="0.3">nn</tspan></text>
<text transform="translate(54.8 521.6) scale(0.88 1)" font-size="17.3">10</text>
<text transform="translate(75.7 513.7) scale(0.92 1)" font-size="11.67">0</text>
<text transform="translate(260.33 521.6) scale(0.88 1)" font-size="17.3">10</text>
<text transform="translate(281.23 513.7) scale(0.92 1)" font-size="11.67">1</text>
<text transform="translate(465.87 521.6) scale(0.88 1)" font-size="17.3">10</text>
<text transform="translate(486.77 513.7) scale(0.92 1)" font-size="11.67">2</text>
<text transform="translate(671.4 521.6) scale(0.88 1)" font-size="17.3">10</text>
<text transform="translate(692.3 513.7) scale(0.92 1)" font-size="11.67">3</text>
<text transform="translate(34.3 505.7) scale(0.88 1)" font-size="17.3">10</text>
<text transform="translate(55.4 498) scale(0.92 1)" font-size="11.67">0</text>
<text transform="translate(34.3 267.1) scale(0.88 1)" font-size="17.3">10</text>
<text transform="translate(55.4 259.4) scale(0.92 1)" font-size="11.67">1</text>
<text transform="translate(34.3 28.5) scale(0.88 1)" font-size="17.3">10</text>
<text transform="translate(55.4 20.8) scale(0.92 1)" font-size="11.67">2</text>
</g>
<rect x="441.2" y="369.6" width="233.3" height="120.8" fill="#fff" stroke="#000" stroke-width="1.39"/>
<g fill="#e80000" stroke="#000" stroke-width="0.8">
<path d="M454.8 381.23 453.86 384.11 450.84 384.11 453.29 385.89 452.35 388.77 454.8 386.99 457.25 388.77 456.31 385.89 458.76 384.11 455.74 384.11Z"/>
<path d="M482.4 381.23 481.46 384.11 478.44 384.11 480.89 385.89 479.95 388.77 482.4 386.99 484.85 388.77 483.91 385.89 486.36 384.11 483.34 384.11Z"/>
</g>
<path fill="none" stroke="#1010c0" stroke-width="0.9" d="M450.63 414.2h8.33M454.8 410.03v8.33M478.23 414.2h8.33M482.4 410.03v8.33"/>
<g fill="#008000" stroke="#000" stroke-width="0.69">
<path d="M454.8 436.91L458.62 443.1L454.8 449.29L450.98 443.1Z"/>
<path d="M482.4 436.91L486.22 443.1L482.4 449.29L478.58 443.1Z"/>
</g>
<path fill="none" stroke="#00b4b4" stroke-width="0.8" d="M450.63 468.13l8.33 8.33M450.63 476.47l8.33 -8.33M478.23 468.13l8.33 8.33M478.23 476.47l8.33 -8.33"/>
<g font-family="DejaVu Sans, Liberation Sans, sans-serif" font-size="20" fill="#000">
<text x="503.8" y="392">DBLP real data</text>
<text x="503.8" y="420.8">GeneSCs (run 1)</text>
<text x="503.8" y="449.7">GeneSCs (run 2)</text>
<text x="503.8" y="478.9">GeneSCs (run 3)</text>
</g>
</g>
</svg>
</body></html>
